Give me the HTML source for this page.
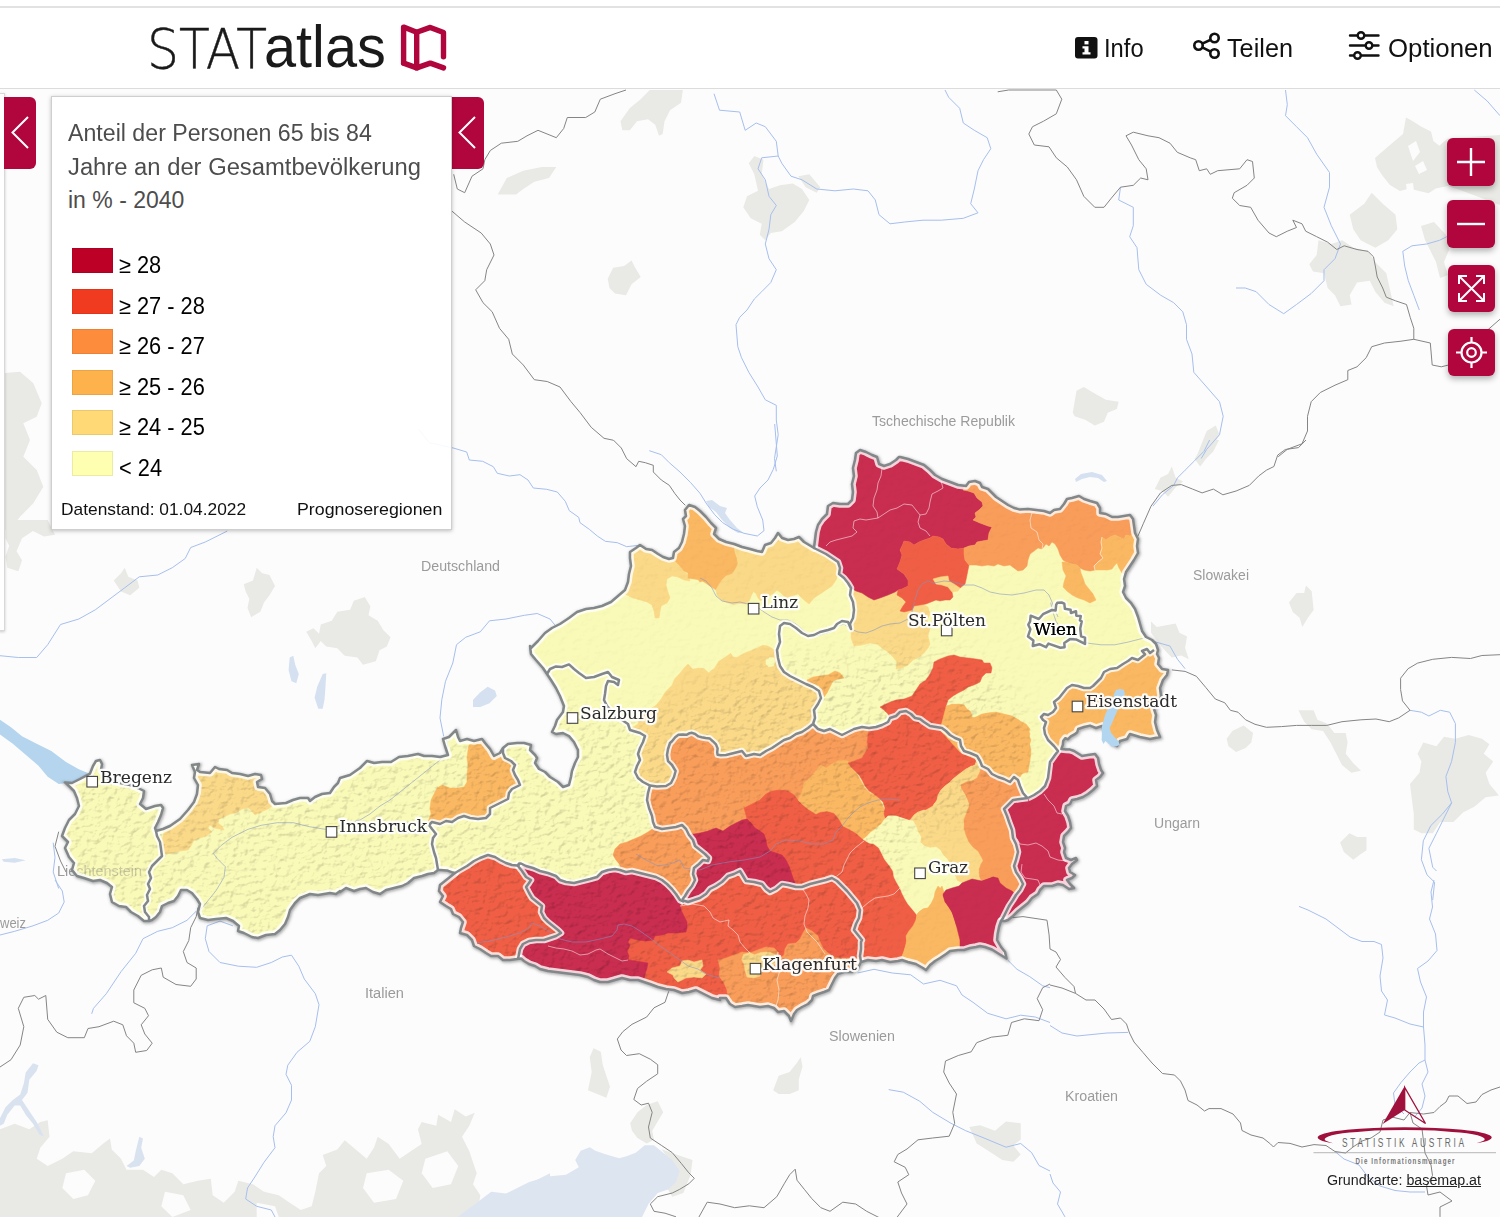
<!DOCTYPE html>
<html lang="de"><head><meta charset="utf-8"><title>STATatlas</title>
<style>
*{box-sizing:border-box;margin:0;padding:0}
html,body{width:1500px;height:1217px;overflow:hidden;background:#fff;font-family:"Liberation Sans",sans-serif;color:#000}
.topline{position:absolute;left:0;top:6px;width:1500px;height:2px;background:#e2e2e2}
header{position:absolute;left:0;top:8px;width:1500px;height:81px;background:#fff;border-bottom:1.3px solid #dcdcdc}
.t{position:absolute;white-space:pre;transform-origin:0 0;line-height:1}
#map{position:absolute;left:0;top:89px;width:1500px;height:1128px;background:#fcfcfc;overflow:hidden}
#map svg{position:absolute;left:0;top:-89px}
.rbtn{position:absolute;background:#b0063d;}
.legend{position:absolute;left:51px;top:96px;width:401px;height:434px;background:rgba(255,255,255,.9);border:1px solid #cfcfcf;box-shadow:0 1px 4px rgba(0,0,0,.25)}
.sw{position:absolute;left:72px;width:41px;height:25px}
.ctl{position:absolute;left:1447px;width:48px;height:48px;border-radius:6px;background:#b0063d;box-shadow:0 3px 6px rgba(0,0,0,.3)}
.panel{position:absolute;left:-2px;top:93px;width:7px;height:538px;background:rgba(255,255,255,.85);border:1px solid #d8d8d8;box-shadow:0 1px 3px rgba(0,0,0,.2)}
</style></head><body>
<div id="map"><svg width="1500" height="1217" viewBox="0 0 1500 1217">
<defs><clipPath id="at"><path d="M70 787 L65 782.4 L72 783 L80 779 L90 773.6 L93 766 L96 761 L100 760 L102 764 L101 770 L108 779 L120 783 L130 785 L138 788 L144 791 L143 798 L140 804 L146 809 L155 806 L161 805 L163 808 L161 815 L158 822 L155 828 L156 831 L163 829 L170 826 L180 819 L188 810 L194 802 L197 794 L198 785 L194 778 L195 772 L192 765 L199 764 L197 770 L200 772 L210 773 L215 767 L219 769 L227 770 L232 773 L240 774 L248 776 L255 774 L261 775 L262 779 L257 782 L258 787 L265 788 L270 794 L272 801 L275 804 L286 803 L293 800 L300 798 L308 798 L310 801 L315 797 L322 794 L330 793 L334 787 L338 783 L340 778 L350 775 L360 768 L367 761 L374 763 L382 762 L391 762 L399 757 L408 756 L418 754 L424 756 L432 756 L440 757 L448 755 L445 746 L443 739 L449 737 L456 730 L458 737 L460 741 L467 739 L474 741 L482 739 L485 743 L490 749 L494 756 L500 753 L503 748 L508 744 L517 743 L524 743 L531 745 L530 750 L535 755 L537 758 L535 763 L539 769 L545 772 L550 777 L558 782 L563 787 L569 785 L571 777 L572 771 L575 763 L578 757 L578 750 L574 742 L569 736 L563 733 L556 734 L552 732 L555 726 L557 720 L563 712 L564 706 L560 696 L556 688 L551 680 L547 674 L543 668 L536 660 L531 654 L530 646 L531 648 L538 641 L545 633 L552 628 L560 624 L569 618 L577 612 L586 609 L594 608 L602 606 L611 602 L618 596 L625 590 L628 582 L629 574 L631 566 L630 558 L630 552 L636 548 L640 545 L646 549 L652 550 L658 554 L663 557 L669 559 L673 558 L674 552 L679 548 L682 542 L684 534 L685 526 L683 519 L686 516 L685 510 L689 505 L695 507 L700 511 L700 511 L706 517 L711 523 L716 528 L714 534 L719 539 L726 542 L734 544 L742 547 L750 549 L757 551 L762 552 L765 545 L771 543 L775 538 L778 533 L782 538 L788 540 L794 539 L799 537 L804 542 L809 545 L814 548 L815 540 L816 532 L818 525 L822 519 L827 514 L828 506 L833 503 L840 504 L848 504 L852 500 L853 492 L852 484 L854 476 L853 468 L855 460 L856 453 L860 450 L866 452 L872 455 L877 457 L879 464 L884 466 L890 464 L896 460 L899 457 L900 457 L908 459 L916 462 L924 465 L930 470 L935 475 L942 479 L950 482 L958 485 L966 486 L969 482 L975 481 L980 483 L982 487 L988 489 L992 493 L996 497 L1002 501 L1008 505 L1014 508 L1020 509.6 L1028 509 L1036 510 L1044 511 L1050 513 L1054 510 L1060 509 L1064 504 L1067 499 L1072 498 L1079 496 L1084 499 L1090 501 L1097 503 L1100 508 L1100 513 L1106 514 L1112 517 L1118 517 L1124 516 L1130 515 L1133 519 L1134 526 L1135 533 L1138 539 L1137 546 L1138 553 L1134 560 L1130 566 L1126 572 L1124 579 L1125 586 L1123 592 L1126 598 L1131 603 L1135 609 L1138 617 L1140 624 L1142 631 L1146 637 L1152 640 L1156 644 L1158 650 L1157 654 L1159 658 L1158 664 L1162 669 L1168 670 L1167 675 L1163 680 L1160 688 L1161 696 L1159 703 L1154 709 L1156 715 L1155 722 L1157 730 L1160 737 L1150 739 L1140 737 L1130 734 L1127 739 L1120 741 L1117 746 L1112 744 L1106 736 L1102 726 L1096 728 L1090 725.6 L1084 727 L1078.2 729 L1077.2 732.2 L1074.4 734.4 L1070.8 736.4 L1068 739.2 L1065.2 738.2 L1063.2 741 L1062.8 744.8 L1061.8 747.6 L1061.4 749 L1061.6 749 L1066 749.4 L1070 749.6 L1074 751 L1082 756 L1088 755 L1095 754 L1098 758 L1099 764 L1101 770 L1103 773 L1100 777 L1096 780 L1097 786 L1093 790 L1088 794 L1083 797 L1077 799 L1072 800 L1070 804 L1066 806 L1065 811 L1068 816 L1070 822 L1071 828 L1068 832 L1064 836 L1063 842 L1065 848 L1064 852 L1066 858 L1071 860 L1076 858 L1077 860 L1072 864 L1069 868 L1070 872 L1075 875 L1072 878 L1067 880 L1070 884 L1074 888 L1069 889 L1063 885 L1058 884 L1052 886 L1044 886 L1040 890 L1038 894 L1032 898 L1028 903 L1023 907 L1018 911 L1013 916 L1008 920 L1005 921 L1001 921 L999 927 L997.6 934 L997 940 L1001 947 L1005 952 L1006.5 958.5 L1000 954.5 L992 949.5 L985 947 L980 946 L976 947 L970 948 L964 950 L958 950 L950 951 L946 954 L940 958 L935 961 L930 965 L926 970 L923 968 L916 964 L908 962 L902 960 L898 961 L890 962 L882 960 L876 961 L868 960 L861 962 L858 968 L852 972 L844 972 L838 974 L835 978 L832 984 L829 990 L824 992 L818 994 L813 996 L812 1000 L808 1004 L802 1007 L797 1010 L794 1014 L791 1021 L789 1016 L784 1011 L778 1012 L774 1008 L768 1006 L760 1007 L754 1006 L748 1005 L742 1006 L735 1007 L730 1004 L726 998 L720 998 L720 1000 L712 998 L704 994 L696 990 L689 992 L682 993 L674 990 L666 989 L658 987 L650 984 L644 982 L638 980 L630 980 L622 978 L615 980 L608 982 L600 982 L594 980 L588 977 L580 975 L572 974 L564 973 L556 972 L548 971 L540 969 L535 966 L529 964 L524 961 L521 958.4 L517 959 L510 960 L503 960 L498 956 L491 956 L486 953 L480 949 L474 946 L472 940 L467 935 L460 933 L461 928 L463 922 L459 917 L453 914 L451 909 L446 906 L440 902 L443 896 L439 891 L440 885 L450 877 L455 873 L453 872.6 L447 870.4 L440 870 L438 870 L434 873 L428 874 L422 876 L414 878 L408 883 L402 886 L394 888 L386 890 L380 894 L373 892 L366 888 L360 889 L354 891 L346 888 L340 892 L340 891 L336 894 L330 893 L324 894 L318 895 L310 894 L300 898 L295 903 L290 910 L288 917 L285 924 L280 930 L275 934 L266 935 L258 938 L252 937 L244 933 L238 931 L239 926 L233 921 L226 918 L216 919 L208 920 L200 918 L198 912 L200 904 L197 899 L192 893 L187 890 L181 890 L178 896 L174 901 L168 903 L162 906 L160 912 L156 917 L152 920 L149 921 L144 921 L138 916 L131 912 L126 907 L119 906 L112 902 L110 894 L112 887 L107 883 L100 880 L93 881 L84 878 L77 876 L72 870 L74 863 L69 857 L65 848 L68 842 L62 836 L65 828 L69 820 L75 814 L79 806 L77 798 L74 791 L70 787Z"/></clipPath>
<filter id="sh" x="-5%" y="-5%" width="110%" height="110%"><feGaussianBlur stdDeviation="1.6"/></filter>
<filter id="hs" x="0" y="0" width="1" height="1" color-interpolation-filters="sRGB"><feTurbulence type="fractalNoise" baseFrequency="0.13 0.17" numOctaves="3" seed="11" result="n"/><feDiffuseLighting in="n" surfaceScale="2.0" diffuseConstant="1" lighting-color="#fff" result="l"><feDistantLight azimuth="225" elevation="45"/></feDiffuseLighting><feColorMatrix in="l" type="matrix" values="0.33 0 0 0 0.772  0.33 0 0 0 0.772  0.33 0 0 0 0.772  0 0 0 1 0"/></filter><filter id="mb" x="-0.1" y="-0.1" width="1.2" height="1.2"><feGaussianBlur stdDeviation="14"/></filter><mask id="alpm" maskUnits="userSpaceOnUse" x="0" y="400" width="1500" height="700"><rect x="0" y="400" width="1500" height="700" fill="#2a2a2a"/><path d="M40 740 L230 760 L420 740 L560 705 L640 722 L700 690 L780 655 L860 655 L950 648 L1010 690 L1040 760 L1005 800 L960 828 L930 828 L900 860 L900 900 L870 960 L800 1040 L400 1010 L40 960Z" fill="#fff" filter="url(#mb)"/></mask>
</defs>
<g fill="#e9eae5">
<path d="M5 373 L20 371.7 L33.3 383.3 L41.7 403.3 L36.7 416.7 L23.3 423.3 L30 440 L23.3 456.7 L36.7 470 L43.3 486.7 L33.3 503.3 L20 516.7 L10 530 L5 530Z"/>
<path d="M620.5 121.2 L629.7 108.3 L640.7 99.2 L649.8 90 L682.8 90 L681 102.8 L670 110.2 L664.5 121.2 L662.7 134 L659 135.8 L655.3 124.8 L648 119.3 L637 121.2 L629.7 130.3 L622.3 130.3Z"/>
<path d="M497.7 194.5 L506.8 178 L523.3 170.7 L541.7 167 L556.3 167 L549 178 L534.3 181.7 L523.3 189 L516 194.5Z"/>
<path d="M754.3 156 L763.5 159.7 L761.7 174.3 L769 189 L780 185.3 L792.8 183.5 L802 189 L809.3 200 L803.8 211 L794.7 222 L781.8 231.2 L770.8 233 L765.3 240.3 L759.8 234.8 L761.7 223.8 L750.7 218.3 L743.3 207.3 L747 196.3 L758 190.8 L754.3 174.3 L748.8 163.3Z"/>
<path d="M798.3 176.2 L809.3 174.3 L820.3 187.2 L816.7 192.7 L805.7 187.2Z"/>
<path d="M607.7 278.8 L613.2 267.8 L624.2 266 L631.5 260.5 L635.2 267.8 L640.7 277 L631.5 284.3 L626 295.3 L615 293.5 L609.5 288Z"/>
<path d="M1375 158 L1390 145 L1403 134 L1406 117.5 L1412 120.7 L1421.4 126.7 L1431 131.4 L1433.3 141 L1439.3 145.7 L1447.6 138.6 L1500 135 L1500 205 L1460 190 L1447.6 186 L1435.7 188.6 L1428.6 193.3 L1419 191 L1409.5 188.6 L1400 191 L1390 185 L1382 175 L1377 167Z"/>
<path d="M1349.7 214.7 L1364.3 203.7 L1371.7 192.7 L1382.7 203.7 L1395.5 214.7 L1397.3 229.3 L1388.2 240.3 L1375.3 247.7 L1360.7 240.3 L1353.3 229.3Z"/>
<path d="M1309.3 264.2 L1316.7 255 L1318.5 240.3 L1331.3 244 L1342.3 240.3 L1353.3 247.7 L1368 251.3 L1375.3 262.3 L1386.3 273.3 L1390 289.8 L1393.7 306.3 L1384.5 302.7 L1375.3 291.7 L1369.8 280.7 L1357 282.5 L1349.7 295.3 L1351.5 304.5 L1340.5 306.3 L1335 295.3 L1327.7 288 L1324 273.3 L1313 271.5Z"/>
<path d="M1421 226 L1434 222 L1447 236 L1449 250 L1444 262 L1448 275 L1440 278 L1436 262 L1430 250 L1425 240Z"/>
<path d="M1072.8 412.7 L1076.5 390.7 L1083.8 387 L1093 392.5 L1105.8 399.8 L1118.7 401.7 L1116.8 409 L1107.7 412.7 L1104 421.8 L1094.8 425.5 L1085.7 420 L1074.7 416.3Z"/>
<path d="M1206.7 431 L1215.8 425.5 L1219.5 434.7 L1212.2 447.5 L1203 458.5 L1195.7 458.5Z"/>
<path d="M306.2 631.8 L313.5 628.2 L319 633.7 L320.8 624.5 L331.8 620.8 L337.3 611.7 L350.2 609.8 L353.8 600.7 L364.8 597 L370.3 606.2 L368.5 615.3 L377.7 620.8 L383.2 630 L390.5 637.3 L386.8 646.5 L379.5 650.2 L375.8 661.2 L363 664.8 L357.5 657.5 L344.7 655.7 L337.3 648.3 L326.3 646.5 L320.8 641 L315.3 648.3 L311.7 641Z"/>
<path d="M243.8 584.2 L253 580.5 L256.7 567.7 L262.2 573.2 L269.5 575 L275 586 L269.5 595.2 L264 602.5 L260.3 611.7 L251.2 617.2 L247.5 608 L249.3 598.8 L245.7 591.5Z"/>
<path d="M113.7 580.5 L121 573.2 L124.7 567.7 L128.3 576.8 L137.5 580.5 L139.3 587.8 L130.2 595.2 L121 591.5Z"/>
<path d="M5.5 527.3 L11 520 L47.7 520 L55 534.7 L44 536.5 L33 531 L22 538.3 L16.5 551.2 L22 560.3 L18.3 571.3 L7.3 567.7 L5.5 556.7 L9.2 545.7 L5.5 538.3Z"/>
<path d="M0 1129.3 L14.7 1123.8 L29.3 1129.3 L40.3 1122 L47.7 1120.2 L49.5 1136.7 L40.3 1147.7 L36.7 1158.7 L47.7 1166 L62.3 1158.7 L73.3 1151.3 L91.7 1153.2 L102.7 1144 L110 1138.5 L111.8 1149.5 L121 1158.7 L126.5 1169.7 L143 1169.7 L154 1177 L161.3 1169.7 L172.3 1173.3 L183.3 1184.3 L198 1180.7 L210.8 1178.8 L212.7 1195.3 L223.7 1202.7 L234.7 1191.7 L238.3 1180.7 L253 1184.3 L264 1191.7 L278.7 1195.3 L289.7 1202.7 L300.7 1210 L311.7 1206.3 L315.3 1191.7 L319 1173.3 L326.3 1166 L322.7 1155 L337.3 1149.5 L344.7 1140.3 L355.7 1149.5 L366.7 1158.7 L374 1147.7 L377.7 1136.7 L388.7 1144 L399.7 1158.7 L410.7 1151.3 L421.7 1144 L418 1129.3 L421.7 1122 L436.3 1125.7 L438.2 1114.7 L451 1122 L454.7 1109.2 L465.7 1116.5 L474.8 1112.8 L469.3 1125.7 L462 1136.7 L469.3 1151.3 L476.7 1173.3 L473 1184.3 L480.3 1195.3 L476.7 1219.2 L0 1219.2Z"/>
<path d="M588 1090.3 L591.7 1072 L589.8 1057.3 L593.5 1048.2 L600.8 1051.8 L602.7 1064.7 L606.3 1075.7 L610 1086.7 L606.3 1097.7 L597.2 1094Z"/>
<path d="M630.2 1123.3 L637.5 1112.3 L646.7 1105 L657.7 1101.3 L663.2 1112.3 L657.7 1121.5 L652.2 1130.7 L654 1139.8 L646.7 1143.5 L637.5 1138 L632 1130.7Z"/>
<path d="M661.3 1149 L676 1154.5 L692.5 1160 L690.7 1174.7 L683.3 1193 L672.3 1196.7 L666.8 1187.5 L676 1178.3 L672.3 1163.7Z"/>
<path d="M773.2 1090.3 L778.7 1075.7 L789.7 1072 L797 1062.8 L800.7 1057.3 L802.5 1066.5 L798.8 1079.3 L798.8 1090.3 L789.7 1094 L778.7 1094Z"/>
<path d="M969.3 1127 L980.3 1125.2 L995 1130.7 L1006 1121.5 L1020.7 1123.3 L1020.7 1139.8 L1013.3 1145.3 L1020.7 1154.5 L1013.3 1161.8 L1002.3 1160 L991.3 1152.7 L976.7 1143.5Z"/>
<path d="M1151 621.5 L1156.7 627.1 L1166.2 625.3 L1175.6 623.4 L1179.4 632.8 L1187 636.6 L1185.1 647.9 L1188.8 659.3 L1181.3 655.5 L1171.8 657.4 L1164.3 649.8 L1156.7 640.4 L1151 632.8Z"/>
<path d="M1154.8 489.1 L1160.5 477.8 L1168.1 474 L1171.8 466.5 L1175.6 477.8 L1183.2 481.6 L1175.6 487.3 L1168.1 496.7 L1162.4 491Z"/>
<path d="M1194.5 458.9 L1202.1 447.6 L1209.6 440 L1219.1 440 L1213.4 451.3 L1205.9 458.9 L1200.2 466.5Z"/>
<path d="M1289 602.6 L1296.6 593.1 L1304.2 593.1 L1306 585.6 L1311.7 591.2 L1313.6 610.1 L1307.9 617.7 L1302.3 627.1 L1299.6 617.7 L1292.8 612Z"/>
<path d="M1226.7 738.7 L1232.3 731.1 L1243.7 725.4 L1253.1 733 L1251.2 742.5 L1245.6 748.1 L1236.1 751.9 L1228.5 746.2Z"/>
<path d="M1298.5 710.3 L1313.6 710.3 L1317.4 719.8 L1326.8 723.6 L1334.4 733 L1345.7 733 L1347.6 742.5 L1345.7 753.8 L1353.3 763.3 L1360.9 770.8 L1351.4 772.7 L1342 765.1 L1336.3 753.8 L1330.6 742.5 L1323.1 731.1 L1311.7 729.2 L1304.2 721.7Z"/>
<path d="M1417.6 753.8 L1423.3 742.5 L1436.5 746.2 L1444 736.8 L1455.4 738.7 L1468.6 734.9 L1481.9 738.7 L1489.4 744.3 L1483.7 753.8 L1493.2 761.4 L1485.6 772.7 L1489.4 784 L1498.9 795.4 L1485.6 797.3 L1474.3 806.7 L1462.9 812.4 L1453.5 821.9 L1440.3 821.9 L1432.7 833.2 L1421.4 833.2 L1413.8 829.4 L1413.8 814.3 L1411.9 799.2 L1410 784 L1419.5 772.7 L1421.4 761.4Z"/>
<path d="M1340.1 842.6 L1349.5 833.2 L1357.1 837 L1366.5 837 L1366.5 850.2 L1360.9 854 L1353.3 859.7 L1343.9 852.1Z"/>
</g><g fill="#fcfcfc">
<path d="M66 1173.3 L84.3 1169.7 L95.3 1180.7 L88 1195.3 L73.3 1199 L62.3 1188Z"/>
<path d="M165 1191.7 L183.3 1195.3 L190.7 1210 L172.3 1217 L161.3 1206.3Z"/>
<path d="M366.7 1173.3 L388.7 1169.7 L403.3 1180.7 L396 1199 L374 1202.7 L363 1188Z"/>
<path d="M256.7 1202.7 L275 1206.3 L278.7 1217 L256.7 1217Z"/>
<path d="M425.3 1158.7 L447.3 1151.3 L458.3 1166 L451 1184.3 L432.7 1188 L421.7 1173.3Z"/>
<path d="M1408 146 L1416 141 L1420 152 L1413 161Z"/>
<path d="M1415 166 L1423 161 L1427 170 L1419 174Z"/>
<path d="M1406 184 L1413 183 L1414 191 L1407 192Z"/>
</g>
<path d="M0 719.8 L11 727.2 L22 736.3 L36.7 743.7 L51.3 751 L66 762 L78.8 769.3 L88 773 L84.3 778.5 L73.3 782.2 L58.7 784 L47.7 776.7 L38.5 765.7 L25.7 754.7 L12.8 743.7 L0 734.5Z" fill="#b5d5ef"/>
<path d="M289.7 657.5 L293.3 655.7 L295.2 664.8 L298.8 674 L296.3 683.2 L291.5 681.3 L288.6 670.3Z" fill="#d5e1f0"/>
<path d="M322.7 674 L326.3 673.3 L325.6 685 L324.5 699.7 L322.7 708.8 L318.3 708.8 L314.6 697.8 L317.2 686.8Z" fill="#d5e1f0"/>
<path d="M473 699.7 L480.3 692.3 L487.7 686.8 L495 690.5 L496.8 696 L489.5 703.3 L480.3 707 L473 707Z" fill="#d5e1f0"/>
<path d="M1.8 859.2 L14.7 858.1 L25.7 860.3 L14.7 862.8 L3.7 861.7Z" fill="#d5e1f0"/>
<path d="M33 1063.3 L38.5 1065.2 L36.7 1070.7 L29.3 1079.8 L27.5 1092.7 L22 1100 L29.3 1111 L36.7 1122 L42.2 1133 L44 1136.7 L39.6 1134.8 L33 1123.8 L25.7 1114.7 L20.2 1105.5 L14.7 1105.5 L7.3 1114.7 L3.7 1123.8 L0 1125.7 L0 1118.3 L5.5 1107.3 L12.8 1100 L20.2 1094.5 L23.8 1083.5 L25.7 1072.5Z" fill="#d9e3f0"/>
<path d="M139.3 1136.7 L143 1138.5 L141.2 1147.7 L144.8 1158.7 L139.3 1166 L130.2 1167.8 L126.5 1166 L133.8 1160.5 L135.7 1151.3Z" fill="#d9e3f0"/>
<path d="M454.7 1219.2 L476.7 1202.7 L491.3 1191.7 L506 1193.5 L520.7 1188 L535.3 1180.7 L550 1173.3 L550 1219.2Z" fill="#dde5f1"/>
<path d="M500 1196.7 L514.7 1189.3 L529.3 1182 L547.7 1176.5 L566 1174.7 L578.8 1167.3 L575.2 1160 L580.7 1150.8 L589.8 1147.2 L595.3 1150.8 L606.3 1154.5 L619.2 1158.2 L626.5 1156.3 L635.7 1152.7 L644.8 1145.3 L654 1145.3 L663.2 1152.7 L672.3 1160 L679.7 1171 L676 1182 L668.7 1189.3 L657.7 1193 L648.5 1204 L641.2 1218.7 L500 1218.7Z" fill="#dde5f1"/>
<path d="M706 501 L712 500 L720 506 L727 508 L725 513 L730 520 L737 528 L743 532.4 L738 533 L730 528 L722 520 L716 512 L709 507Z" fill="#d5e1f0"/>
<path d="M1075 479 L1081 474 L1092 472 L1102 475 L1107 481 L1104 482 L1098 478 L1090 477 L1082 479 L1076 482Z" fill="#d5e1f0"/>
<g fill="none" stroke="#a6bfee" stroke-width="1">
<path d="M418.7 429.3 L429.3 442.7 L453.3 448 L466.7 452 L469.3 460 L482.7 461.3 L493.3 466.7 L497.3 473.3 L509.3 476 L520 474.7 L528 480 L533.3 488 L546.7 489.3 L557.3 492 L565.3 501.3 L569.3 510.7 L578.7 517.3 L580 522.7 L589.3 529.3 L597.3 536 L605.3 541.3 L617.3 542.7 L626.7 546.7 L638.7 545.3"/>
<path d="M649.3 450.7 L661.3 454.7 L669.3 462.7 L680 472 L690.7 482.7 L700 493.3 L706.7 504 L714.7 514.7 L722.7 522.7 L733.3 529.3 L744 533.3 L757.3 536 L764 530.7 L762.7 520 L757.3 506.7 L754.7 496 L760 488 L768 480 L773.3 469.3 L777.3 456 L776 440 L774.7 424"/>
<path d="M714 93.7 L719.5 110.2 L739.7 112 L745.2 130.3 L756.2 123 L765.3 126.7 L776.3 141.3 L778.2 156 L761.7 157.8 L758 168.8 L765.3 179.8 L769 196.3 L776.3 205.5 L770.8 214.7 L769 229.3 L765.3 244 L769 258.7 L776.3 269.7 L770.8 282.5 L761.7 291.7 L754.3 299 L747 310 L739.7 317.3 L736 324.7 L737.8 346.7 L741.5 357.7 L748.8 372.3 L758 387 L765.3 399.8 L776.3 405.3 L776.3 420 L778.2 434.7 L774.5 458.5 L776.3 471.3"/>
<path d="M778.2 156 L781.8 163.3 L791 176.2 L802 179.8 L816.7 189 L835 190.8 L853.3 189 L868 190.8 L875.3 200 L879 214.7 L890 223.8 L904.7 222 L923 220.2 L941.3 220.2 L963.3 218.3 L978 212.8 L970.7 203.7 L974.3 189 L978 170.7 L983.5 159.7 L990.8 148.7 L987.2 137.7 L974.3 130.3 L963.3 123 L959.7 108.3 L948.7 97.3 L945 90"/>
<path d="M1120.5 187.2 L1118.7 200 L1133.3 207.3 L1133.3 225.7 L1129.7 236.7 L1137 247.7 L1138.8 269.7 L1146.2 284.3 L1160.8 295.3 L1173.7 302.7 L1182.8 311.8 L1186.5 324.7 L1186.5 339.3 L1192 354 L1193.8 372.3 L1206.7 387 L1219.5 401.7 L1223.2 416.3 L1219.5 434.7 L1206.7 449.3 L1201.2 458.5"/>
<path d="M1285.5 90 L1287.3 104.7 L1285.5 115.7 L1296.5 126.7 L1307.5 137.7 L1316.7 154.2 L1329.5 172.5 L1329.5 187.2 L1324 207.3 L1331.3 225.7 L1340.5 244 L1335 258.7 L1324 269.7 L1324 280.7 L1311.2 293.5 L1296.5 304.5 L1283.7 313.7 L1269 304.5 L1256.2 291.7 L1245.2 288 L1236 288"/>
<path d="M1446.8 236.7 L1439.5 240.3 L1426.7 244 L1412 245.8 L1402.8 251.3 L1404.7 266 L1408.3 280.7 L1413.8 295.3 L1419.3 310"/>
<path d="M1474.3 90 L1487.2 101 L1500 115.7"/>
<path d="M0 655.7 L18.3 657.5 L36.7 657.5 L47.7 644.7 L60.5 624.5 L78.8 619 L95.3 609.8 L110 598.8 L124.7 587.8 L139.3 576.8 L157.7 575 L172.3 567.7 L185.2 558.5 L190.7 547.5 L205.3 542 L220 534.7 L227.3 531"/>
<path d="M443.7 736.3 L440 718 L441.8 699.7 L445.5 681.3 L452.8 663 L456.5 644.7 L465.7 637.3 L480.3 631.8 L489.5 620.8 L506 619 L524.3 615.3 L537.2 613.5 L550 619 L554.8 624.9"/>
<path d="M53.2 842.7 L55 857.3 L53.2 872 L58.7 888.5"/>
<path d="M91.7 1013.8 L93.5 1008.3 L106.3 993.7 L121 971.7 L135.7 953.3 L143 938.7 L157.7 931.3 L172.3 927.7 L187 920.3 L196.2 911.2"/>
<path d="M232.8 925.8 L220 921.1 L207.2 925.8 L205.3 938.7 L209 951.5 L220 962.5 L238.3 966.2 L256.7 967.3 L271.3 962.5 L282.3 957 L291.5 955.2 L298.8 966.2 L304.3 979 L315.3 993.7 L319 1004.7 L315.3 1026.7 L309.8 1041.3 L297 1052.3 L287.8 1065.2 L286 1074.3 L291.5 1085.3 L291.5 1100 L286 1112.8 L275 1125.7 L273.2 1136.7 L275 1147.7 L264 1162.3 L254.8 1177 L247.5 1188 L245.7 1199 L256.7 1206.3 L271.3 1210 L275 1217"/>
<path d="M55 880 L62.3 891 L64.2 902 L58.7 913 L47.7 920.3 L33 925.8 L14.7 931.3 L0 935"/>
<path d="M857.5 973 L874 969.3 L892.3 973 L910.7 974.8 L923.5 984 L940 980.3 L956.5 985.8 L962 995 L973 1002.3 L987.7 1013.3 L1006 1018.8 L1020.7 1015.2 L1035.3 1017 L1050 1022.5"/>
<path d="M1007.8 960.2 L1017 969.3 L1029.8 976.7 L1042.7 985.8 L1050 987.7"/>
<path d="M888.7 1089.6 L903.3 1092.2 L919.8 1101.3 L932.7 1112.3 L951 1123.3 L965.7 1130.7 L984 1138 L1006 1147.2 L1020.7 1143.5 L1031.7 1152.7 L1039 1165.5 L1050 1171"/>
<path d="M1050 1025.5 L1062 1033 L1077 1036 L1092 1034.5 L1107 1033 L1128 1032.4"/>
<path d="M1299 906.4 L1308 910 L1326 919 L1338 928 L1350 937 L1362 941.5 L1374 941.5 L1381.5 944.5 L1383 958 L1380 976 L1381.5 991 L1387.5 1000 L1384.5 1015 L1395 1018 L1410 1024 L1423.5 1027"/>
<path d="M1434 880 L1431 892 L1432.5 907 L1429.5 919 L1435.5 934 L1437 950.5 L1428 961 L1417.5 968.5 L1420.5 982 L1426.5 997 L1423.5 1012 L1423.5 1027 L1425 1045 L1425 1060 L1428 1072 L1422 1084 L1425 1096 L1422 1108 L1414.5 1117"/>
<path d="M1425 1060 L1419 1063 L1410 1072 L1401 1082.5 L1393.5 1093 L1395 1105 L1404 1114"/>
<path d="M1050 1174 L1053 1183 L1060.5 1192 L1057.5 1204 L1065 1216.9"/>
<path d="M1335 1151.5 L1344 1159 L1359 1165 L1368 1177 L1380 1186 L1395 1190.5 L1410 1192 L1425 1192"/>
<path d="M1209.6 440 L1204 451.3 L1194.5 460.8 L1185.1 470.2 L1177.5 477.8 L1173.7 485.4 L1162.4 494.8 L1152.9 506.2"/>
<path d="M1139.7 636.6 L1156.7 642.3 L1169.9 646 L1177.5 659.3 L1185.1 668.7"/>
<path d="M1410 710.3 L1421.4 712.2 L1428.9 716 L1440.3 710.3 L1449.7 712.2 L1455.4 723.6 L1455.4 742.5 L1451.6 761.4 L1445.9 776.5 L1447.8 791.6 L1451.6 802.9 L1442.2 814.3 L1430.8 825.6 L1423.3 840.8 L1421.4 859.7 L1427 874.8 L1434.6 882.3 L1432.7 900.1"/>
<path d="M1451.6 802.9 L1444 818.1 L1436.5 833.2 L1428.9 848.3 L1432.7 867.2 L1436.5 871"/>
</g><g fill="none" stroke="#858585" stroke-width="1">
<path d="M613.3 440 L621.3 448 L626.7 458.7 L636 466.7 L638.7 461.3 L645.3 462.7 L653.3 465.3 L653.3 472 L661.3 480 L669.3 485.3 L674.7 493.3 L680 500 L685.3 505.3"/>
<path d="M626 90 L615 93.7 L600.3 99.2 L594.8 112 L585.7 117.5 L567.3 117.5 L563.7 128.5 L556.3 137.7 L538 130.3 L527 135.8 L517.8 141.3 L501.3 143.2 L490.3 150.5 L484.8 159.7 L483 168.8 L472 176.2 L464.7 192.7 L457.3 189 L453.7 174.3"/>
<path d="M451.8 211 L464.7 222 L481.2 233 L490.3 244 L494 255 L486.7 269.7 L484.8 280.7 L475.7 289.8 L483 302.7 L492.2 311.8 L499.5 328.3 L508.7 339.3 L512.3 354 L523.3 365 L534.3 379.7 L547.2 381.5 L560 387 L571 401.7 L580.2 412.7 L591.2 427.3 L604 438.3 L613.2 440.2"/>
<path d="M997.7 91.8 L1008.7 90 L1056.3 90 L1061.8 99.2 L1056.3 113.8 L1043.5 121.2 L1032.5 126.7 L1028.8 134 L1034.3 145 L1049 146.8 L1056.3 157.8 L1067.3 167 L1076.5 179.8 L1083.8 196.3 L1094.8 207.3 L1104 207.3 L1111.3 198.2 L1120.5 187.2 L1133.3 185.3 L1140.7 178 L1148 179.8 L1146.2 168.8 L1138.8 159.7 L1131.5 145 L1126 135.8 L1133.3 132.2 L1148 135.8 L1159 137.7 L1170 143.2 L1177.3 152.3 L1190.2 157.8 L1195.7 159.7 L1199.3 170.7 L1206.7 168.8 L1210.3 174.3 L1217.7 170.7 L1239.7 168.8 L1247 159.7 L1252.5 161.5 L1254.3 178 L1247 185.3 L1234.2 192.7 L1232.3 198.2 L1239.7 205.5 L1250.7 207.3 L1258 220.2 L1269 233 L1276.3 236.7 L1287.3 231.2 L1296.5 227.5 L1292.8 220.2 L1302 223.8 L1305.7 231.2 L1316.7 236.7 L1327.7 242.2 L1336.8 249.5 L1344.2 245.8 L1357 249.5 L1368 251.3 L1373.5 256.8 L1375.3 266 L1377.2 277 L1382.7 288 L1386.3 297.2 L1395.5 300.8 L1406.5 304.5 L1410.2 317.3 L1413.8 328.3 L1413.8 339.3"/>
<path d="M1413.8 339.3 L1430.3 343 L1432.2 365 L1441.3 366.8 L1456 363.2 L1470.7 346.7 L1485.3 332 L1500 319.2"/>
<path d="M1413.8 339.3 L1401 341.2 L1384.5 343 L1371.7 346.7 L1366.2 357.7 L1357 366.8 L1347.8 370.5 L1347.8 379.7 L1335 385.2 L1320.3 392.5 L1311.2 401.7 L1307.5 416.3 L1307.5 431 L1302 443.8 L1287.3 449.3 L1278.2 456.7"/>
<path d="M0 1067 L11 1059.7 L20.2 1045 L23.8 1026.7 L18.3 1008.3 L23.8 997.3 L34.8 995.5 L38.5 999.2 L45.8 995.5 L47.7 1019.3 L56.8 1032.2 L67.8 1037.7 L84.3 1037.7 L88 1028.5 L99 1026.7 L113.7 1021.2 L122.8 1024.8 L126.5 1035.8 L133.8 1043.2 L135.7 1052.3 L146.7 1050.5 L152.2 1043.2 L144.8 1034 L141.2 1024.8 L148.5 1015.7 L144.8 1008.3 L133.8 1002.8 L133.8 990 L141.2 975.3 L152.2 969.8 L161.3 968 L163.2 977.2 L176 984.5 L190.7 986.3 L196.2 979 L196.2 968 L187 962.5 L183.3 951.5 L188.8 940.5 L190.7 927.7 L196.2 916.7 L198 907.5"/>
<path d="M58.7 831.7 L55 846.3 L60.5 861 L66 872"/>
<path d="M668.7 991.3 L665 1002.3 L654 1007.8 L646.7 1017 L632 1024.3 L622.8 1031.7 L617.3 1039 L621 1050 L626.5 1055.5 L639.3 1053.7 L650.3 1059.2 L657.7 1064.7 L657.7 1073.8 L646.7 1081.2 L637.5 1088.5 L633.8 1099.5 L641.2 1105 L648.5 1103.2 L652.2 1112.3 L648.5 1127 L650.3 1138 L661.3 1145.3 L672.3 1152.7 L681.5 1163.7 L688.8 1172.8 L694.3 1178.3 L688.8 1183.8 L679.7 1189.3 L672.3 1193 L657.7 1196.7 L650.3 1204 L654 1211.3 L665 1213.2 L676 1216.8"/>
<path d="M698 1218.7 L707.2 1202.2 L720 1204 L734.7 1207.7 L749.3 1205.8 L764 1207.7 L776.8 1196.7 L784.2 1183.8 L789.7 1174.7 L795.2 1169.2 L797 1180.2 L804.3 1189.3 L811.7 1198.5 L820.8 1207.7 L830 1211.3 L842.8 1202.2 L855.7 1204 L866.7 1211.3 L881.3 1218.7"/>
<path d="M896 1218.7 L907 1204 L901.5 1193 L897.8 1182 L908.8 1174.7 L905.2 1167.3 L894.2 1161.8 L897.8 1154.5 L907 1149 L918 1139.8 L932.7 1138 L949.2 1136.2 L954.7 1123.3 L952.8 1112.3 L956.5 1094 L949.2 1083 L943.7 1072 L945.5 1061 L958.3 1055.5 L971.2 1051.8 L976.7 1042.7 L991.3 1037.2 L1007.8 1035.3 L1011.5 1022.5 L1024.3 1018.8 L1039 1020.7 L1042.7 1009.7 L1037.2 998.7 L1042.7 987.7 L1050 984"/>
<path d="M1005 918.4 L1023 916.6 L1047 920.2 L1049.1 934.9 L1050 949 L1056 952 L1060.5 959.5 L1056 967 L1065 977.5 L1074 986.5 L1075.5 993.4"/>
<path d="M1050 985 L1062 988 L1075.5 993.4 L1086 1000 L1095 1000 L1104 1009 L1111.5 1019.5 L1120.5 1018 L1126.5 1024 L1129.5 1033 L1134 1042 L1143 1052.5 L1152 1063 L1162.5 1073.5 L1174.5 1075 L1180.5 1081 L1185 1090 L1188 1100.5 L1197 1105 L1204.5 1111 L1209 1108.6 L1221 1108.6 L1233 1114 L1240.5 1123 L1242 1130.5 L1251 1135 L1263 1138 L1270.5 1144 L1273.5 1147 L1278 1142.5 L1290 1143.4 L1302 1147 L1314 1144.6 L1326 1145.5 L1335 1151.5 L1345.5 1153 L1353 1147 L1362 1141 L1371 1138 L1380 1132 L1383 1120 L1392 1117 L1404 1120 L1410 1112.5 L1423.5 1114 L1434 1112.5 L1440 1106.5 L1446 1102 L1449 1096 L1458 1096 L1467 1103.5 L1476 1102 L1482 1094.5 L1491 1090 L1500 1087"/>
<path d="M1410 1112.5 L1413 1123 L1422 1129 L1423.5 1141 L1425 1153 L1431 1165 L1432.5 1175.5 L1426.5 1186 L1428 1195 L1440 1192 L1452 1201 L1440 1207 L1440 1216.9"/>
<path d="M1137.8 536.4 L1143.5 523.2 L1151 506.2 L1160.5 492.9 L1171.8 485.4 L1181.3 484.6 L1192.6 489.1 L1202.1 492.9 L1213.4 489.1 L1222.9 494.8 L1236.1 491 L1249.3 485.4 L1258.8 475.9 L1266.4 470.2 L1273.9 466.5 L1277.7 455.1 L1285.3 449.5 L1298.5 447.6 L1306 440"/>
<path d="M1171.8 669.9 L1185.1 671.4 L1196.4 676.3 L1205.9 687.6 L1215.3 699 L1224.8 702.8 L1230.4 710.3 L1238 712.2 L1245.6 719.8 L1255 724.3 L1266.4 727.3 L1281.5 726.6 L1296.6 725.4 L1311.7 725.4 L1326.8 725.4 L1342 721.7 L1360.9 719.8 L1376 719 L1389.2 721.7 L1398.7 717.9 L1410 710.3 L1402.5 700.9 L1400.6 689.5 L1400.6 678.2 L1408.1 668.7 L1417.6 663.1 L1432.7 659.3 L1451.6 657.4 L1470.5 658.5 L1481.9 655.5 L1500 654.7"/>
</g>
<g opacity=".999">
<text x="872" y="426" font-family="'Liberation Sans',sans-serif" font-size="14" fill="#9b9b9b" textLength="143" lengthAdjust="spacingAndGlyphs">Tschechische Republik</text>
<text x="421" y="571" font-family="'Liberation Sans',sans-serif" font-size="14" fill="#9b9b9b" textLength="79" lengthAdjust="spacingAndGlyphs">Deutschland</text>
<text x="1193" y="580" font-family="'Liberation Sans',sans-serif" font-size="14" fill="#9b9b9b" textLength="56" lengthAdjust="spacingAndGlyphs">Slowakei</text>
<text x="1154" y="828" font-family="'Liberation Sans',sans-serif" font-size="14" fill="#9b9b9b" textLength="46" lengthAdjust="spacingAndGlyphs">Ungarn</text>
<text x="365" y="998" font-family="'Liberation Sans',sans-serif" font-size="14" fill="#9b9b9b" textLength="39" lengthAdjust="spacingAndGlyphs">Italien</text>
<text x="829" y="1041" font-family="'Liberation Sans',sans-serif" font-size="14" fill="#9b9b9b" textLength="66" lengthAdjust="spacingAndGlyphs">Slowenien</text>
<text x="1065" y="1101" font-family="'Liberation Sans',sans-serif" font-size="14" fill="#9b9b9b" textLength="53" lengthAdjust="spacingAndGlyphs">Kroatien</text>
<text x="57" y="876" font-family="'Liberation Sans',sans-serif" font-size="14" fill="#9b9b9b" textLength="85" lengthAdjust="spacingAndGlyphs">Liechtenstein</text>
<text x="0" y="928" font-family="'Liberation Sans',sans-serif" font-size="14" fill="#9b9b9b" textLength="26" lengthAdjust="spacingAndGlyphs">weiz</text>
</g>
<path d="M70 787 L65 782.4 L72 783 L80 779 L90 773.6 L93 766 L96 761 L100 760 L102 764 L101 770 L108 779 L120 783 L130 785 L138 788 L144 791 L143 798 L140 804 L146 809 L155 806 L161 805 L163 808 L161 815 L158 822 L155 828 L156 831 L163 829 L170 826 L180 819 L188 810 L194 802 L197 794 L198 785 L194 778 L195 772 L192 765 L199 764 L197 770 L200 772 L210 773 L215 767 L219 769 L227 770 L232 773 L240 774 L248 776 L255 774 L261 775 L262 779 L257 782 L258 787 L265 788 L270 794 L272 801 L275 804 L286 803 L293 800 L300 798 L308 798 L310 801 L315 797 L322 794 L330 793 L334 787 L338 783 L340 778 L350 775 L360 768 L367 761 L374 763 L382 762 L391 762 L399 757 L408 756 L418 754 L424 756 L432 756 L440 757 L448 755 L445 746 L443 739 L449 737 L456 730 L458 737 L460 741 L467 739 L474 741 L482 739 L485 743 L490 749 L494 756 L500 753 L503 748 L508 744 L517 743 L524 743 L531 745 L530 750 L535 755 L537 758 L535 763 L539 769 L545 772 L550 777 L558 782 L563 787 L569 785 L571 777 L572 771 L575 763 L578 757 L578 750 L574 742 L569 736 L563 733 L556 734 L552 732 L555 726 L557 720 L563 712 L564 706 L560 696 L556 688 L551 680 L547 674 L543 668 L536 660 L531 654 L530 646 L531 648 L538 641 L545 633 L552 628 L560 624 L569 618 L577 612 L586 609 L594 608 L602 606 L611 602 L618 596 L625 590 L628 582 L629 574 L631 566 L630 558 L630 552 L636 548 L640 545 L646 549 L652 550 L658 554 L663 557 L669 559 L673 558 L674 552 L679 548 L682 542 L684 534 L685 526 L683 519 L686 516 L685 510 L689 505 L695 507 L700 511 L700 511 L706 517 L711 523 L716 528 L714 534 L719 539 L726 542 L734 544 L742 547 L750 549 L757 551 L762 552 L765 545 L771 543 L775 538 L778 533 L782 538 L788 540 L794 539 L799 537 L804 542 L809 545 L814 548 L815 540 L816 532 L818 525 L822 519 L827 514 L828 506 L833 503 L840 504 L848 504 L852 500 L853 492 L852 484 L854 476 L853 468 L855 460 L856 453 L860 450 L866 452 L872 455 L877 457 L879 464 L884 466 L890 464 L896 460 L899 457 L900 457 L908 459 L916 462 L924 465 L930 470 L935 475 L942 479 L950 482 L958 485 L966 486 L969 482 L975 481 L980 483 L982 487 L988 489 L992 493 L996 497 L1002 501 L1008 505 L1014 508 L1020 509.6 L1028 509 L1036 510 L1044 511 L1050 513 L1054 510 L1060 509 L1064 504 L1067 499 L1072 498 L1079 496 L1084 499 L1090 501 L1097 503 L1100 508 L1100 513 L1106 514 L1112 517 L1118 517 L1124 516 L1130 515 L1133 519 L1134 526 L1135 533 L1138 539 L1137 546 L1138 553 L1134 560 L1130 566 L1126 572 L1124 579 L1125 586 L1123 592 L1126 598 L1131 603 L1135 609 L1138 617 L1140 624 L1142 631 L1146 637 L1152 640 L1156 644 L1158 650 L1157 654 L1159 658 L1158 664 L1162 669 L1168 670 L1167 675 L1163 680 L1160 688 L1161 696 L1159 703 L1154 709 L1156 715 L1155 722 L1157 730 L1160 737 L1150 739 L1140 737 L1130 734 L1127 739 L1120 741 L1117 746 L1112 744 L1106 736 L1102 726 L1096 728 L1090 725.6 L1084 727 L1078.2 729 L1077.2 732.2 L1074.4 734.4 L1070.8 736.4 L1068 739.2 L1065.2 738.2 L1063.2 741 L1062.8 744.8 L1061.8 747.6 L1061.4 749 L1061.6 749 L1066 749.4 L1070 749.6 L1074 751 L1082 756 L1088 755 L1095 754 L1098 758 L1099 764 L1101 770 L1103 773 L1100 777 L1096 780 L1097 786 L1093 790 L1088 794 L1083 797 L1077 799 L1072 800 L1070 804 L1066 806 L1065 811 L1068 816 L1070 822 L1071 828 L1068 832 L1064 836 L1063 842 L1065 848 L1064 852 L1066 858 L1071 860 L1076 858 L1077 860 L1072 864 L1069 868 L1070 872 L1075 875 L1072 878 L1067 880 L1070 884 L1074 888 L1069 889 L1063 885 L1058 884 L1052 886 L1044 886 L1040 890 L1038 894 L1032 898 L1028 903 L1023 907 L1018 911 L1013 916 L1008 920 L1005 921 L1001 921 L999 927 L997.6 934 L997 940 L1001 947 L1005 952 L1006.5 958.5 L1000 954.5 L992 949.5 L985 947 L980 946 L976 947 L970 948 L964 950 L958 950 L950 951 L946 954 L940 958 L935 961 L930 965 L926 970 L923 968 L916 964 L908 962 L902 960 L898 961 L890 962 L882 960 L876 961 L868 960 L861 962 L858 968 L852 972 L844 972 L838 974 L835 978 L832 984 L829 990 L824 992 L818 994 L813 996 L812 1000 L808 1004 L802 1007 L797 1010 L794 1014 L791 1021 L789 1016 L784 1011 L778 1012 L774 1008 L768 1006 L760 1007 L754 1006 L748 1005 L742 1006 L735 1007 L730 1004 L726 998 L720 998 L720 1000 L712 998 L704 994 L696 990 L689 992 L682 993 L674 990 L666 989 L658 987 L650 984 L644 982 L638 980 L630 980 L622 978 L615 980 L608 982 L600 982 L594 980 L588 977 L580 975 L572 974 L564 973 L556 972 L548 971 L540 969 L535 966 L529 964 L524 961 L521 958.4 L517 959 L510 960 L503 960 L498 956 L491 956 L486 953 L480 949 L474 946 L472 940 L467 935 L460 933 L461 928 L463 922 L459 917 L453 914 L451 909 L446 906 L440 902 L443 896 L439 891 L440 885 L450 877 L455 873 L453 872.6 L447 870.4 L440 870 L438 870 L434 873 L428 874 L422 876 L414 878 L408 883 L402 886 L394 888 L386 890 L380 894 L373 892 L366 888 L360 889 L354 891 L346 888 L340 892 L340 891 L336 894 L330 893 L324 894 L318 895 L310 894 L300 898 L295 903 L290 910 L288 917 L285 924 L280 930 L275 934 L266 935 L258 938 L252 937 L244 933 L238 931 L239 926 L233 921 L226 918 L216 919 L208 920 L200 918 L198 912 L200 904 L197 899 L192 893 L187 890 L181 890 L178 896 L174 901 L168 903 L162 906 L160 912 L156 917 L152 920 L149 921 L144 921 L138 916 L131 912 L126 907 L119 906 L112 902 L110 894 L112 887 L107 883 L100 880 L93 881 L84 878 L77 876 L72 870 L74 863 L69 857 L65 848 L68 842 L62 836 L65 828 L69 820 L75 814 L79 806 L77 798 L74 791 L70 787Z" fill="none" stroke="#555" stroke-opacity=".55" stroke-width="3.2" filter="url(#sh)" transform="translate(.8 1)"/>
<g clip-path="url(#at)">
<path d="M70 787 L65 782.4 L72 783 L80 779 L90 773.6 L93 766 L96 761 L100 760 L102 764 L101 770 L108 779 L120 783 L130 785 L138 788 L144 791 L143 798 L140 804 L146 809 L155 806 L161 805 L163 808 L161 815 L158 822 L155 828 L156 831 L163 829 L170 826 L180 819 L188 810 L194 802 L197 794 L198 785 L194 778 L195 772 L192 765 L199 764 L197 770 L200 772 L210 773 L215 767 L219 769 L227 770 L232 773 L240 774 L248 776 L255 774 L261 775 L262 779 L257 782 L258 787 L265 788 L270 794 L272 801 L275 804 L286 803 L293 800 L300 798 L308 798 L310 801 L315 797 L322 794 L330 793 L334 787 L338 783 L340 778 L350 775 L360 768 L367 761 L374 763 L382 762 L391 762 L399 757 L408 756 L418 754 L424 756 L432 756 L440 757 L448 755 L445 746 L443 739 L449 737 L456 730 L458 737 L460 741 L467 739 L474 741 L482 739 L485 743 L490 749 L494 756 L500 753 L503 748 L508 744 L517 743 L524 743 L531 745 L530 750 L535 755 L537 758 L535 763 L539 769 L545 772 L550 777 L558 782 L563 787 L569 785 L571 777 L572 771 L575 763 L578 757 L578 750 L574 742 L569 736 L563 733 L556 734 L552 732 L555 726 L557 720 L563 712 L564 706 L560 696 L556 688 L551 680 L547 674 L543 668 L536 660 L531 654 L530 646 L531 648 L538 641 L545 633 L552 628 L560 624 L569 618 L577 612 L586 609 L594 608 L602 606 L611 602 L618 596 L625 590 L628 582 L629 574 L631 566 L630 558 L630 552 L636 548 L640 545 L646 549 L652 550 L658 554 L663 557 L669 559 L673 558 L674 552 L679 548 L682 542 L684 534 L685 526 L683 519 L686 516 L685 510 L689 505 L695 507 L700 511 L700 511 L706 517 L711 523 L716 528 L714 534 L719 539 L726 542 L734 544 L742 547 L750 549 L757 551 L762 552 L765 545 L771 543 L775 538 L778 533 L782 538 L788 540 L794 539 L799 537 L804 542 L809 545 L814 548 L815 540 L816 532 L818 525 L822 519 L827 514 L828 506 L833 503 L840 504 L848 504 L852 500 L853 492 L852 484 L854 476 L853 468 L855 460 L856 453 L860 450 L866 452 L872 455 L877 457 L879 464 L884 466 L890 464 L896 460 L899 457 L900 457 L908 459 L916 462 L924 465 L930 470 L935 475 L942 479 L950 482 L958 485 L966 486 L969 482 L975 481 L980 483 L982 487 L988 489 L992 493 L996 497 L1002 501 L1008 505 L1014 508 L1020 509.6 L1028 509 L1036 510 L1044 511 L1050 513 L1054 510 L1060 509 L1064 504 L1067 499 L1072 498 L1079 496 L1084 499 L1090 501 L1097 503 L1100 508 L1100 513 L1106 514 L1112 517 L1118 517 L1124 516 L1130 515 L1133 519 L1134 526 L1135 533 L1138 539 L1137 546 L1138 553 L1134 560 L1130 566 L1126 572 L1124 579 L1125 586 L1123 592 L1126 598 L1131 603 L1135 609 L1138 617 L1140 624 L1142 631 L1146 637 L1152 640 L1156 644 L1158 650 L1157 654 L1159 658 L1158 664 L1162 669 L1168 670 L1167 675 L1163 680 L1160 688 L1161 696 L1159 703 L1154 709 L1156 715 L1155 722 L1157 730 L1160 737 L1150 739 L1140 737 L1130 734 L1127 739 L1120 741 L1117 746 L1112 744 L1106 736 L1102 726 L1096 728 L1090 725.6 L1084 727 L1078.2 729 L1077.2 732.2 L1074.4 734.4 L1070.8 736.4 L1068 739.2 L1065.2 738.2 L1063.2 741 L1062.8 744.8 L1061.8 747.6 L1061.4 749 L1061.6 749 L1066 749.4 L1070 749.6 L1074 751 L1082 756 L1088 755 L1095 754 L1098 758 L1099 764 L1101 770 L1103 773 L1100 777 L1096 780 L1097 786 L1093 790 L1088 794 L1083 797 L1077 799 L1072 800 L1070 804 L1066 806 L1065 811 L1068 816 L1070 822 L1071 828 L1068 832 L1064 836 L1063 842 L1065 848 L1064 852 L1066 858 L1071 860 L1076 858 L1077 860 L1072 864 L1069 868 L1070 872 L1075 875 L1072 878 L1067 880 L1070 884 L1074 888 L1069 889 L1063 885 L1058 884 L1052 886 L1044 886 L1040 890 L1038 894 L1032 898 L1028 903 L1023 907 L1018 911 L1013 916 L1008 920 L1005 921 L1001 921 L999 927 L997.6 934 L997 940 L1001 947 L1005 952 L1006.5 958.5 L1000 954.5 L992 949.5 L985 947 L980 946 L976 947 L970 948 L964 950 L958 950 L950 951 L946 954 L940 958 L935 961 L930 965 L926 970 L923 968 L916 964 L908 962 L902 960 L898 961 L890 962 L882 960 L876 961 L868 960 L861 962 L858 968 L852 972 L844 972 L838 974 L835 978 L832 984 L829 990 L824 992 L818 994 L813 996 L812 1000 L808 1004 L802 1007 L797 1010 L794 1014 L791 1021 L789 1016 L784 1011 L778 1012 L774 1008 L768 1006 L760 1007 L754 1006 L748 1005 L742 1006 L735 1007 L730 1004 L726 998 L720 998 L720 1000 L712 998 L704 994 L696 990 L689 992 L682 993 L674 990 L666 989 L658 987 L650 984 L644 982 L638 980 L630 980 L622 978 L615 980 L608 982 L600 982 L594 980 L588 977 L580 975 L572 974 L564 973 L556 972 L548 971 L540 969 L535 966 L529 964 L524 961 L521 958.4 L517 959 L510 960 L503 960 L498 956 L491 956 L486 953 L480 949 L474 946 L472 940 L467 935 L460 933 L461 928 L463 922 L459 917 L453 914 L451 909 L446 906 L440 902 L443 896 L439 891 L440 885 L450 877 L455 873 L453 872.6 L447 870.4 L440 870 L438 870 L434 873 L428 874 L422 876 L414 878 L408 883 L402 886 L394 888 L386 890 L380 894 L373 892 L366 888 L360 889 L354 891 L346 888 L340 892 L340 891 L336 894 L330 893 L324 894 L318 895 L310 894 L300 898 L295 903 L290 910 L288 917 L285 924 L280 930 L275 934 L266 935 L258 938 L252 937 L244 933 L238 931 L239 926 L233 921 L226 918 L216 919 L208 920 L200 918 L198 912 L200 904 L197 899 L192 893 L187 890 L181 890 L178 896 L174 901 L168 903 L162 906 L160 912 L156 917 L152 920 L149 921 L144 921 L138 916 L131 912 L126 907 L119 906 L112 902 L110 894 L112 887 L107 883 L100 880 L93 881 L84 878 L77 876 L72 870 L74 863 L69 857 L65 848 L68 842 L62 836 L65 828 L69 820 L75 814 L79 806 L77 798 L74 791 L70 787Z" fill="#fafab8"/>
<path d="M630 729 L638 724 L640 716 L648 710.7 L656 705.3 L661.3 698.7 L665.3 692 L672 685.3 L674.7 678.7 L680 673.3 L684 668 L688 664 L692.7 669.3 L698.7 668 L704 668.7 L708.7 672.7 L714.7 668 L718.7 661.3 L725.3 657.3 L730.7 653.3 L733.3 657.3 L737.3 657.3 L744 653.3 L750.7 650.7 L757.3 648 L762.7 645.3 L768 646 L773.3 649.3 L778 651.3 L777 650 L778 658 L780 666 L784 672 L790 676 L798 680 L806 684 L813 687 L819 691 L821 698 L818 704 L814 710 L815 718 L813 724 L800 740 L760 764 L740 764 L700 748 L672 752 L676 780 L660 792 L650 785.6 L650 785.6 L643 782 L638 778 L635 772 L637 766 L640 760 L638 754 L640 748 L643 742 L645 736 L640 733 L630 730Z" fill="#fad988" stroke="#fad988" stroke-width=".5"/>
<path d="M766 660 L770 657.3 L774 658 L775.3 662 L773.3 666 L768.7 666.7 L766 664Z" fill="#fafab8" stroke="#fafab8" stroke-width=".5"/>
<path d="M650 785.6 L657 786.4 L666 786 L671 783 L674 777 L675.6 771 L672 765 L668 761 L667 755 L668 749 L670 743 L672 741.2 L675.2 737.2 L678.4 734.8 L682.4 734.4 L686.4 734.8 L689.6 733.2 L692 732.8 L695.2 734 L698.4 736.4 L701.6 737.2 L705.6 738 L709.6 738.4 L712.8 741.2 L716 744.4 L717.6 748.4 L717.2 752.4 L717.6 754.8 L720.8 755.2 L726 755 L734 753 L742 751 L746 756 L754 754 L760 755 L766 751 L772 748 L778 744 L784 740 L790 738 L796 734 L802 732 L808 728 L813 724 L813 724 L818 729 L824 731 L830 729 L836 732 L842 735 L848 732 L854 729 L862 727 L869 728 L868 735 L867 742 L868 748 L865 753 L862 758 L854 761 L848 763 L820 790 L820 800 L770 810 L747 830 L700 844 L689 835 L686 829 L682 825 L676 827 L669 828 L662 829 L655 827 L653 822 L652 816 L649 808 L647 800 L648 793 L650 785.6Z" fill="#f99d5a" stroke="#f99d5a" stroke-width=".5"/>
<path d="M747 819 L744 808 L752 804 L760 800 L766 794 L772 791 L780 790 L788 791 L794 795 L798 800 L820 790 L860 800 L900 840 L920 880 L930 920 L920 960 L900 975 L700 1070 L600 1010 L640 996 L620 952 L620 928 L670 920 L670 890 L680 880 L696 860 L720 840Z" fill="#f05f45" stroke="#f05f45" stroke-width=".5"/>
<path d="M689 835 L694 834 L700 833 L708 831 L716 828 L723 831 L730 826 L736 823 L742 820 L747 819 L751 823 L755 828 L760 831 L764 834 L766 840 L767 846 L770 851 L776 853 L782 855 L786 860 L789 866 L791 872 L793 878 L795 883 L796 887 L788 885 L782 884 L776 889 L770 892 L766 889 L762 884 L754 882 L746 881 L743 876 L740 871 L734 874 L728 876 L722 882 L716 886 L710 889 L706 894 L700 898 L694 900 L688 902 L682 900 L685 896 L688 891 L692 886 L695 880 L693 874 L694 868 L699 864 L703 860 L708 861 L709 858 L705 854 L700 850 L695 846 L693 840Z" fill="#c92d4f" stroke="#c92d4f" stroke-width=".5"/>
<path d="M655 827 L662 829 L669 828 L676 827 L682 825 L686 829 L689 835 L693 840 L695 846 L700 850 L705 854 L709 858 L708 861 L703 860 L699 864 L694 868 L693 874 L695 880 L692 886 L688 891 L685 896 L682 900 L680 901 L677 898 L673 893 L669 889 L666 884 L662 880 L656 878 L649 876 L642 873 L634 871 L627 870 L620 868 L620 865 L616 860 L613 855 L615 849 L620 844 L627 842 L634 839 L641 836 L648 832Z" fill="#f99d5a" stroke="#f99d5a" stroke-width=".5"/>
<path d="M520 863 L526 866 L533 868 L540 871 L548 873 L556 876 L560 880 L566 882 L574 883 L582 881 L590 879 L597 877 L602 872 L608 870 L615 869 L620 870 L626 872 L632 871 L640 873 L648 875 L656 877 L662 880 L667 884 L672 889 L676 894 L680 900 L681 910 L684 916 L687 922 L687 928 L686 932 L676 933 L668 933 L662 935 L655 936 L653 940 L646 941 L638 940 L630 938 L628 942 L630 946 L627 951 L629 956 L628 960 L636 961 L642 962 L648 963 L647 968 L645 974 L644 979 L642 984 L620 992 L560 984 L516 968 L518 959 L519 954 L520 949 L523 944 L529 941 L536 940 L544 940 L550 938 L556 936 L561 933 L558 930 L553 926 L548 922 L544 918 L541 912 L542 906 L537 902 L532 898 L529 893 L526 887 L529 883 L531 880 L526 877 L522 871 L518 866Z" fill="#c92d4f" stroke="#c92d4f" stroke-width=".5"/>
<path d="M455 873 L460 870 L467 866 L474 861 L480 858 L488 855 L495 857 L500 860 L506 863 L512 865 L517 865.6 L520 863 L518 866 L522 871 L526 877 L531 880 L529 883 L526 887 L529 893 L532 898 L537 902 L542 906 L541 912 L544 918 L548 922 L553 926 L558 930 L561 933 L556 936 L550 938 L544 940 L536 940 L529 941 L523 944 L520 949 L519 954 L518 959 L516 968 L480 964 L450 924 L428 890 L440 876Z" fill="#f05f45" stroke="#f05f45" stroke-width=".5"/>
<path d="M718 960 L726 958 L734 955 L742 952 L750 953 L760 949 L766 947 L774 948 L778 952 L780 958 L784 955 L785 949 L788 944 L796 943 L800 939 L803 933 L806 928 L812 931 L818 936 L820 942 L823 948 L828 953 L834 957 L840 958 L848 958 L856 958 L861 957 L863 965 L840 984 L820 1004 L792 1026 L760 1014 L728 1004 L727 990 L724 983 L719 976 L720 968Z" fill="#f99d5a" stroke="#f99d5a" stroke-width=".5"/>
<path d="M741.6 959.6 L743.6 954.4 L749.6 952.4 L754.4 954.8 L761 952.4 L769 952 L775 954.4 L778 960 L774 965 L768 968 L762 970 L760 976 L754 978 L747 977 L745 970 L744 964Z" fill="#fad988" stroke="#fad988" stroke-width=".5"/>
<path d="M667 972 L672 968 L680 966 L682 961 L688 960 L694 962 L702 960 L703 966 L700 970 L706 974 L702 978 L694 977 L686 978 L678 982 L674 978 L673 975Z" fill="#fad988" stroke="#fad988" stroke-width=".5"/>
<path d="M798 800 L802 792 L804 783 L810 778 L815 772 L821 765 L826 768 L832 764 L840 760 L848 761 L852 768 L857 774 L861 781 L865 788 L870 793 L877 795 L880 800 L883 806 L886 813 L888 816 L886.7 817.3 L884 820 L882 823.3 L878 826.7 L874 830 L870 832.7 L867.3 836 L863 839.3 L856 833 L849 829 L843 826 L839 819 L834 813 L827 811 L820 812 L816 814 L808 809 L802 804Z" fill="#fab862" stroke="#fab862" stroke-width=".5"/>
<path d="M869 728 L876 727 L882 725 L888 722 L890 718 L896 716 L900 712 L906 711 L911 714 L915 718 L920 719 L924 722 L930 726 L936 727 L942 728 L946 731 L950 735 L955 738 L960 740 L961 746 L964 751 L970 753 L977 756 L976 760 L975 765 L970 767 L966 769 L962 772 L958 775 L953 779 L949 783 L945 786 L941 790 L938 795 L937 801 L934 804 L933 809 L928 811 L924 810 L918 812 L914 815 L913 821 L908 820 L902 818 L896 816 L889 817 L886 820 L884 814 L885 808 L883 802 L879 798 L874 794 L869 791 L865 786 L862 780 L859 775 L855 771 L851 767 L848 763 L854 761 L862 758 L865 753 L868 748 L867 742 L868 735Z" fill="#f05f45" stroke="#f05f45" stroke-width=".5"/>
<path d="M910 820 L914 815 L918 812 L924 810 L928 811 L933 809 L934 804 L937 801 L938 795 L941 790 L945 786 L949 783 L953 779 L958 775 L962 772 L966 769 L970 767 L975 765 L977 760 L980 761 L982 766 L984 769 L980 773 L975 775 L970 778 L964 782 L961 786 L962 792 L966 798 L970 804 L972 810 L968 816 L964 820 L960 828 L910 828Z" fill="#fad988" stroke="#fad988" stroke-width=".5"/>
<path d="M970 767 L975 770 L981 773 L985 777 L982 779 L974 781 L966 783 L961 787 L964 792 L967 797 L970 804 L967 812 L964 820 L965 828 L968 836 L971 842 L976 847 L981 852 L985 858 L981 864 L979 870 L983 876 L980 882 L972 880 L966 885 L960 883 L957 878 L958 872 L954 868 L950 862 L946 856 L942 851 L937 848 L930 846 L925 842 L922 836 L920 830 L917 824 L913 820 L918 814 L926 810 L933 806 L937 800 L940 794 L943 789 L950 783 L957 777 L963 772Z" fill="#fad988" stroke="#fad988" stroke-width=".5"/>
<path d="M913 821 L917 815 L924 812 L932 810 L935 804 L939 800 L941 793 L944 788 L950 783 L956 779 L962 775 L967 771 L971 766 L977 768 L982 772 L985 777 L979 779 L972 781 L966 782 L961 785 L963 790 L966 795 L968 800 L970 806 L968 813 L965 820 L964 828 L966 835 L969 842 L973 847 L978 851 L981 856 L984 862 L982 868 L979 872 L980 878 L982 881 L977 880 L972 879 L967 881 L962 883 L957 881 L955 876 L953 870 L950 864 L947 859 L943 855 L940 850 L936 847 L930 848 L924 846 L920 842 L921 837 L918 832 L916 826Z" fill="#fad988" stroke="#fad988" stroke-width=".5"/>
<path d="M961 787 L966 783 L974 781 L982 779 L989 780 L996 782 L1004 785 L1011 789 L1016 793 L1018 798 L1022 800 L1012 802 L1009 804 L1004 809 L1007 816 L1009 822 L1012 830 L1013 838 L1016 844 L1018 852 L1016 860 L1014 866 L1016 872 L1020 878 L1023 884 L1020 890 L1016 893 L1012 891 L1006 888 L1000 883 L998 878 L993 877 L988 879 L983 876 L979 870 L981 864 L985 858 L981 852 L976 847 L971 842 L968 836 L965 828 L964 820 L967 812 L970 804 L967 797 L964 792Z" fill="#f99d5a" stroke="#f99d5a" stroke-width=".5"/>
<path d="M961 785 L966 782 L972 781 L977 778 L980 772 L981 768 L982 766 L988 769 L992 774 L998 777 L1004 779 L1010 782 L1014 777 L1018 780 L1020 786 L1023 793 L1027 797.6 L1020 799 L1013 800 L1009 804 L1004 809 L1007 816 L1009 822 L1012 830 L1013 838 L1016 844 L1018 852 L1016 860 L1014 866 L1016 872 L1020 878 L1023 884 L1020 890 L1016 895 L1013 893 L1010 891 L1004 888 L999 885 L997 880 L994 877 L988 879 L982 881 L980 878 L979 872 L982 868 L984 862 L981 856 L978 851 L973 847 L969 842 L966 835 L964 828 L965 820 L968 813 L970 806 L968 800 L966 795 L963 790Z" fill="#f99d5a" stroke="#f99d5a" stroke-width=".5"/>
<path d="M863 839.3 L867.3 836 L870 832.7 L874 830 L878 826.7 L882 823.3 L884 820 L886.7 817.3 L888 816 L892 815.7 L896 816 L902 818 L908 820 L913 821 L916 826 L918 832 L921 837 L920 842 L924 846 L930 848 L936 847 L940 850 L943 855 L947 859 L950 864 L953 870 L955 876 L957 881 L962 883 L959 886 L952 888 L946 890 L943 894 L940 888 L938 886 L935 892 L934 898 L932 903 L928 908 L923 909 L919 912 L917 915 L913 910 L908 904 L905 899 L902 893 L900 888 L897 883 L894 877 L893 871 L889 865 L885 860 L882 854 L879 848 L874 844 L869 843Z" fill="#fafab8" stroke="#fafab8" stroke-width=".5"/>
<path d="M917 914 L923 909 L928 908 L932 902 L936 894 L942 886 L944 892 L942 898 L946 906 L952 910 L956 918 L958 926 L962 934 L964 938 L960 942 L964 946 L969 949.6 L960 960 L940 968 L926 978 L900 970 L900 962 L901 958 L904 952 L906 944 L907 936 L912 930 L916 922Z" fill="#fab862" stroke="#fab862" stroke-width=".5"/>
<path d="M917 915 L919 912 L923 909 L928 908 L932 903 L934 898 L935 892 L938 886 L940 888 L943 894 L945 900 L948 906 L952 912 L954 918 L956 924 L959 930 L963 935 L964 940 L961 944 L964 948 L969 951 L966 964 L900 972 L902 960 L903 954 L905 948 L907 942 L906 936 L909 931 L913 926 L916 920Z" fill="#fab862" stroke="#fab862" stroke-width=".5"/>
<path d="M943 895 L948 892 L958 888 L966 885 L972 880 L980 882 L988 879 L993 877 L998 878 L1000 883 L1006 888 L1012 891 L1016 895 L1013 900 L1009 906 L1006 912 L1003 918 L1001 921 L999 927 L1004 960 L960 960 L960 940 L959 936 L957 928 L955 920 L953 914 L950 908 L945 902Z" fill="#c92d4f" stroke="#c92d4f" stroke-width=".5"/>
<path d="M943 894 L946 890 L952 888 L959 886 L962 883 L967 881 L972 879 L977 880 L982 881 L988 879 L994 877 L997 880 L999 885 L1004 888 L1010 891 L1013 893 L1016 895 L1013 900 L1009 906 L1006 912 L1003 918 L1001 921 L1000 928 L1000 980 L966 964 L969 951 L964 948 L961 944 L964 940 L963 935 L959 930 L956 924 L954 918 L952 912 L948 906 L945 900Z" fill="#c92d4f" stroke="#c92d4f" stroke-width=".5"/>
<path d="M1058 751 L1061.2 748.6 L1066 749 L1070 749.6 L1074 751 L1082 756 L1120 752 L1120 900 L1004 928 L1001 921 L1003 918 L1006 912 L1009 906 L1013 900 L1016 895 L1020 890 L1023 884 L1020 878 L1016 872 L1014 866 L1016 860 L1018 852 L1016 844 L1013 838 L1012 830 L1009 822 L1007 816 L1004 809 L1009 804 L1013 800 L1020 799 L1028 798 L1034 795 L1040 791 L1045 786 L1048 778 L1049 770 L1050 762 L1055 755Z" fill="#c92d4f" stroke="#c92d4f" stroke-width=".5"/>
<path d="M851 629 L851 638 L854 646 L862 645 L870 643 L877 644 L882 648 L888 652 L893 657 L897 662 L896 669 L902 668 L908 665 L913 660 L919 657 L924 653 L928 648 L930 644 L928 636 L930 628 L927 620 L930 614 L928 607 L922 604 L914 603 L914 584 L851 580 L852 590 L856 608 L854 620Z" fill="#fad988" stroke="#fad988" stroke-width=".5"/>
<path d="M814 548 L815 540 L816 532 L818 525 L822 519 L827 514 L828 506 L833 503 L840 504 L848 504 L852 500 L853 492 L852 484 L854 476 L853 468 L855 460 L856 453 L860 450 L866 452 L872 455 L877 457 L879 464 L884 466 L890 464 L896 460 L899 457 L908 459 L916 462 L924 465 L930 470 L935 475 L942 479 L950 482 L958 485 L965 487 L963 490 L968 491 L974 493 L977 498 L982 502 L983 506 L979 510 L975 513 L976 517 L973 520 L980 523 L988 526 L992 527 L989 533 L988 540 L982 541 L977 542 L975 545 L969 546 L964 548 L958 549 L951 548 L946 544 L943 539 L939 537 L933 536 L930 538 L924 540 L919 542 L914 545 L910 542 L904 541 L902 546 L900 550 L902 555 L900 562 L897 569 L904 574 L908 580 L908 586 L902 589 L898 590 L895 592 L888 595 L880 598 L874 600 L868 597 L862 593 L856 591 L851 588 L848 583 L844 578 L839 574 L840 568 L838 562 L832 558 L826 554 L820 551Z" fill="#c92d4f" stroke="#c92d4f" stroke-width=".5"/>
<path d="M964 548 L958 549 L951 548 L946 544 L943 539 L939 537 L933 536 L930 538 L924 540 L919 542 L914 545 L910 542 L904 541 L902 546 L900 550 L902 555 L900 562 L897 569 L904 574 L908 580 L908 586 L902 589 L898 590 L897 595 L902 598 L906 602 L903 606 L900 611 L904 612 L912 610 L914 606 L920 605 L926 604 L931 602 L936 600 L940 601 L945 600 L950 600 L953 597 L952 592 L955 589 L960 588 L965 584 L966 580 L968 570 L969 565 L965 560 L964 554Z" fill="#f05f45" stroke="#f05f45" stroke-width=".5"/>
<path d="M933 579 L940 577 L948 576 L949 581 L954 584 L960 588 L958 591 L952 592 L948 587 L942 585 L936 584Z" fill="#fad988" stroke="#fad988" stroke-width=".5"/>
<path d="M965 487 L963 490 L968 491 L974 493 L977 498 L982 502 L983 506 L979 510 L975 513 L976 517 L973 520 L980 523 L988 526 L992 527 L989 533 L988 540 L982 541 L977 542 L975 545 L969 546 L964 548 L964 554 L965 560 L969 565 L976 565 L982 566 L988 565 L994 566 L998 564 L1004 566 L1010 565 L1014 568 L1018 571 L1023 570 L1027 566 L1028 560 L1030 554 L1034 551 L1038 548 L1042 549 L1046 544 L1049 546 L1052 542 L1055 544 L1058 549 L1060 555 L1063 560 L1066 562 L1072 564 L1077 565 L1080 568 L1084 570 L1090 571 L1095 570 L1094 566 L1098 562 L1103 558 L1100 554 L1102 548 L1101 542 L1102 537 L1106 540 L1110 537 L1115 535 L1119 537 L1124 539 L1126 535 L1130 536 L1134.4 534 L1150 534 L1150 480 L966 470Z" fill="#f99d5a" stroke="#f99d5a" stroke-width=".5"/>
<path d="M1134.4 534 L1130 536 L1126 535 L1124 539 L1119 537 L1115 535 L1110 537 L1106 540 L1102 537 L1101 542 L1102 548 L1100 554 L1103 558 L1098 562 L1094 566 L1095 570 L1102 570 L1108 570 L1112 569 L1115 565 L1117 563 L1119 568 L1122 573 L1125 574.4 L1150 574 L1150 534Z" fill="#fab862" stroke="#fab862" stroke-width=".5"/>
<path d="M1062 562 L1066 562 L1072 564 L1077 565 L1080 568 L1081 573 L1083 578 L1085 584 L1089 589 L1093 594 L1096 600 L1090 603 L1084 600 L1078 598 L1072 595 L1067 591 L1063 587 L1064 582 L1066 576 L1063 570Z" fill="#fab862" stroke="#fab862" stroke-width=".5"/>
<path d="M880 707 L888 703 L896 700 L904 699 L912 696 L916 690 L920 684 L926 680 L930 674 L933 668 L934 662 L940 659 L948 656 L954 655 L960 657 L968 658 L976 659 L982 660 L984 663 L990 663 L992 668 L991 673 L986 673 L982 677 L980 682 L974 685 L968 687 L964 690 L958 693 L953 696 L948 700 L946 706 L947 712 L945 718 L944 724 L942 728 L936 727 L930 726 L924 722 L920 719 L915 718 L911 714 L906 711 L900 712 L896 716 L890 718 L888 714 L884 710Z" fill="#f05f45" stroke="#f05f45" stroke-width=".5"/>
<path d="M946 707 L952 704 L960 705 L966 709 L968 715 L974 718 L980 715 L988 713 L996 712 L1004 714 L1012 716 L1019 720 L1023 726 L1028 729 L1030 734 L1028 740 L1030 746 L1031 752 L1030 760 L1028 772 L1012 776 L960 752 L940 730Z" fill="#fab862" stroke="#fab862" stroke-width=".5"/>
<path d="M946 706 L951 705 L958 704 L964 705 L967 709 L971 712 L972 718 L977 717 L982 714 L990 713 L998 714 L1006 715 L1014 718 L1020 721 L1026 724 L1030 729 L1028 734 L1031 740 L1029 746 L1028 752 L1027 758 L1028 764 L1024 769 L1022 774 L1018 780 L1014 777 L1010 782 L1004 779 L998 777 L992 774 L988 769 L982 766 L980 761 L977 756 L970 753 L964 751 L961 746 L960 740 L955 738 L950 735 L946 731 L942 728 L944 724 L945 718 L947 712Z" fill="#fab862" stroke="#fab862" stroke-width=".5"/>
<path d="M807 680 L813 677 L820 676 L828 675 L835 671 L840 673 L844 678 L838 679 L833 681 L830 687 L827 693 L824 697 L821 692 L819 686 L813 684 L808 684Z" fill="#fab862" stroke="#fab862" stroke-width=".5"/>
<path d="M1154 650 L1150 653 L1147 649 L1142 651 L1145 654.4 L1143 656 L1138 660 L1132 658 L1128 661 L1123 664 L1117 668 L1110 669 L1104 672 L1101 678 L1097 682 L1093 686 L1090 688 L1084 688 L1078 686 L1072 685 L1067 688 L1063 693 L1059 698 L1054 702 L1056 708 L1053 712 L1048 715 L1044 714 L1041 717 L1043 720 L1046 722 L1044 728 L1045 734 L1048 740 L1054 746 L1058 751 L1061.2 749.4 L1080 752 L1120 752 L1180 740 L1180 648Z" fill="#fab862" stroke="#fab862" stroke-width=".5"/>
<path d="M630 552 L636 548 L640 545 L646 549 L652 550 L658 554 L663 557 L669 559 L673 558 L676 562 L680 566 L684 571 L689 576 L690 581 L684 580 L678 577 L672 576 L667 579 L666 585 L668 592 L670 598 L667 603 L661 606 L660 612 L659 618 L655 618 L654 611 L652 605 L647 602 L640 600 L633 598 L627 595 L620 592 L620 548Z" fill="#fad988" stroke="#fad988" stroke-width=".5"/>
<path d="M700 511 L706 517 L711 523 L716 528 L714 534 L719 539 L726 542 L734 544 L735 552 L737 558 L738 564 L735 570 L732 574 L726 576 L722 580 L718 586 L716 590 L710 586 L704 582 L700 580 L688 578 L688 500Z" fill="#fab862" stroke="#fab862" stroke-width=".5"/>
<path d="M673 558 L674 552 L679 548 L682 542 L684 534 L685 526 L683 519 L686 516 L685 510 L689 505 L695 507 L700 511 L706 515 L711 519 L716 525 L717 529 L714 533 L717 538 L721 542 L728 543 L733 545 L734 552 L736 558 L738 563 L735 569 L733 575 L728 577 L724 580 L720 584 L717 588 L715 583 L710 582 L704 580 L700 582 L697 578 L692 575 L688 573 L684 571 L680 566 L676 562Z" fill="#fab862" stroke="#fab862" stroke-width=".5"/>
<path d="M734 544 L742 547 L750 549 L757 551 L762 552 L765 545 L771 543 L775 538 L778 533 L782 538 L788 540 L794 539 L799 537 L804 542 L809 545 L814 548 L820 551 L826 554 L832 558 L838 562 L840 568 L838 574 L836 580 L832 586 L826 590 L820 594 L814 598 L809 604 L804 600 L798 594 L792 596 L786 598 L782 594 L777 590 L773.4 593.4 L769.4 596 L764 600 L760 600.6 L758 598 L756 593.4 L753.4 591.4 L751.4 595.4 L749.4 600.6 L745.4 604 L740 603.4 L733.4 604.6 L726.6 602.6 L721.4 600 L717.4 596 L716 590.6 L718 586 L722 580 L726 576 L732 574 L735 570 L738 564 L737 558 L735 552Z" fill="#fad988" stroke="#fad988" stroke-width=".5"/>
<path d="M163 829 L170 826 L180 819 L188 810 L194 802 L197 794 L198 785 L194 778 L200 772 L210 773 L215 767 L219 769 L227 770 L232 773 L240 774 L248 776 L255 774 L261 775 L262 779 L257 782 L258 787 L265 788 L270 794 L272 801 L272 806 L268 809 L261 812 L255 815 L249 808 L242 809 L236 813 L230 814 L224 817 L219 819 L218 823 L222 826 L224 830 L219 829 L214 828 L210 825 L208 828 L212 832 L206 836 L200 838 L194 840 L191 846 L188 850 L180 851 L172 853 L165 854 L162.4 849 L162 840 L164 833Z" fill="#fad988" stroke="#fad988" stroke-width=".5"/>
<path d="M469 745 L478 742 L482 739.4 L485 743 L490 749 L494 756 L500 753 L503 753 L505 758 L511 761 L515 765 L513 770 L515 775 L518 780 L520 785 L512 789 L509 793 L508 799 L502 802 L496 805 L490 808 L490 814 L486 818 L478 819 L470 818 L464 816 L458 818 L452 822 L446 821 L440 824 L432 822.4 L428 826 L426.6 826.8 L428 822 L430 816 L431 814 L430 808 L431 800 L434 794 L437 788 L442 785 L450 788 L458 788 L464 787 L467 782 L467 774 L468 766 L467 758 L468 750Z" fill="#fab862" stroke="#fab862" stroke-width=".5"/>
<path d="M1057.4 602.8 L1061.6 602.5 L1064.3 603.7 L1064.9 608.8 L1070.6 609.7 L1070.9 613 L1076 611.2 L1076.3 615.7 L1080.8 616 L1079.9 620.5 L1081.7 621.4 L1080.2 628.6 L1081.1 636.4 L1085 637.6 L1085 643.9 L1076 639.4 L1070 639.1 L1064.3 643 L1064.6 647.2 L1060.4 647.8 L1048.4 643.6 L1046 647.2 L1039.4 644.2 L1032.8 646 L1033.4 640.6 L1028 636.4 L1030.4 629.2 L1028.3 624.7 L1030.1 621.4 L1030.7 615.7 L1038.8 619 L1043 614.2 L1052 610 L1055.6 610.6 L1056.2 604.6Z" fill="#fafab8" stroke="#fafab8" stroke-width=".5"/>
<text x="57" y="876" font-family="'Liberation Sans',sans-serif" font-size="14" fill="#8a8a80" fill-opacity=".42" textLength="85" lengthAdjust="spacingAndGlyphs" opacity=".999">Liechtenstein</text>
<g mask="url(#alpm)" style="mix-blend-mode:multiply"><rect x="40" y="430" width="1150" height="610" filter="url(#hs)"/></g>
<g fill="none" stroke="#fff" stroke-opacity=".75" stroke-width=".7">
<path d="M548 946 L556 948 L564 949 L572 951 L580 955 L588 954 L596 950 L600 949 L608 954 L616 958 L622 961 L628 960"/>
<path d="M680 906 L692 904 L704 906 L710 912 L713 918 L720 922 L729 920 L728 926 L733 930 L738 935 L740 942 L745 948 L750 953"/>
<path d="M778 952 L776 962 L780 970 L777 980 L779 990 L778 1000 L776 1006"/>
<path d="M1044 794 L1048 800 L1054 806 L1057 813 L1062 814 L1065 811"/>
<path d="M1017 839 L1020 844 L1028 845 L1036 843 L1042 846 L1048 851 L1050 857 L1058 860 L1066 861"/>
<path d="M1022 864 L1021 872 L1025 878 L1032 879 L1038 880 L1040 885"/>
<path d="M1032 513 L1030 520 L1031 528 L1037 532 L1039 540 L1043 544 L1042 549"/>
<path d="M1102 537 L1101 542 L1102 548 L1100 554 L1103 558 L1098 562 L1094 566 L1095 570"/>
<path d="M882 468 L881 476 L878 483 L877 490 L874 498 L873 506 L877 512 L878 518 L872 519 L866 520 L860 519 L854 521 L853 528 L857 532 L852 536 L844 538 L836 540 L830 542 L826 546"/>
<path d="M878 518 L884 514 L890 510 L897 508 L904 504 L912 505 L916 510 L920 515 L918 522 L920 528 L926 531 L930 536"/>
<path d="M941 481 L943 488 L938 491 L932 494 L930 502 L929 508 L926 514 L920 515"/>
<path d="M864 841 L860 844 L855 848 L850 853 L847 859 L844 865 L842 872 L837 876 L832 878"/>
<path d="M900 888 L894 894 L888 896 L881 897 L875 898 L869 902 L863 907 L859 910"/>
<path d="M802 888 L806 894 L809 900 L808 908 L805 916 L804 924 L807 932 L812 937 L817 942 L821 948 L825 954"/>
</g>
<g fill="none" stroke="#7f93c8" stroke-opacity=".7" stroke-width=".8">
<path d="M463 945 L476 943 L490 941 L506 937 L520 933 L529 928 L532 923 L540 926 L550 932 L560 939 L572 942 L586 942 L600 939 L612 936 L617 930 L618 925 L624 924 L632 926 L640 931 L650 938 L660 946 L670 953 L680 960 L688 966 L698 969 L704 973 L712 976 L720 978"/>
<path d="M636 854 L646 860 L658 866 L670 864 L680 860 L684 868 L700 870 L712 865 L728 862 L744 860 L760 857 L770 851 L776 844 L786 840 L800 841 L812 844 L824 844 L833 840 L836 832 L842 826 L848 818 L854 812 L860 807 L868 803 L878 800 L886 799 L900 800"/>
<path d="M700 578 L706 581 L712 588 L716 596 L722 601 L732 603 L740 602 L748 604 L756 606 L764 612 L772 617 L780 620 L788 620 L796 624 L804 631 L812 636 L820 635 L830 632 L838 626 L844 624 L851 629 L858 632 L866 633 L874 630 L882 626 L890 624 L900 623 L908 619 L912 612 L914.4 602"/>
<path d="M915 600 L918 590 L922 584 L928 581 L934 583 L944 581 L954 582 L964 585 L974 585 L982 588 L990 592 L1000 594 L1012 595 L1024 593 L1036 590 L1044 590 L1049 595 L1052 602 L1055 610 L1058 617"/>
<path d="M196 914.7 L205.3 904 L216 890.7 L224 877.3 L225.3 866.7 L217.3 858.7 L213.3 853.3 L221.3 845.3 L232 837.3 L248 829.3 L261.3 825.3 L277.3 822.7 L293.3 822.7 L309.3 826.7 L325.3 829.3 L332 828 L346 824 L360 820 L370 814 L380 806 L390 800 L400 792 L410 784 L420 776 L430 768 L440 760 L446 754 L448 746 L446 738 L443 734"/>
<path d="M1050.7 602.7 L1053.3 613.3 L1056 621.3 L1062.7 630.7 L1074.7 638.7 L1088 643.2 L1101.3 644.8 L1114.7 644.8 L1128 642.1 L1141.3 638.7 L1146.7 637.3"/>
</g>
<g fill="none" stroke="#fff" stroke-opacity=".8" stroke-width="6.6" stroke-linejoin="round">
<path d="M156 831 L157 836 L160 842 L161 849 L162 856 L157 861 L152 866 L149 872 L151 878 L148 884 L150 889 L147 895 L148 901 L144 906 L145 912 L149 917 L149 921"/>
<path d="M438 870 L437 864 L436 858 L434 852 L432 844 L433 838 L436 834 L432 829 L429 825 L432 822 L440 824 L446 821 L452 822 L458 818 L464 816 L470 818 L478 819 L486 818 L490 814 L490 808 L496 805 L502 802 L508 799 L509 793 L512 789 L520 785 L518 780 L515 775 L513 770 L515 765 L511 761 L505 758 L503 753 L503 748"/>
<path d="M455 873 L460 870 L467 866 L474 861 L480 858 L488 855 L495 857 L500 860 L506 863 L512 865 L517 865.6 L520 863"/>
<path d="M520 863 L518 866 L522 871 L526 877 L531 880 L529 883 L526 887 L529 893 L532 898 L537 902 L542 906 L541 912 L544 918 L548 922 L553 926 L558 930 L561 933 L556 936 L550 938 L544 940 L536 940 L529 941 L523 944 L520 949 L519 954 L518 959"/>
<path d="M520 863 L526 866 L533 868 L540 871 L548 873 L556 876 L560 880 L566 882 L574 883 L582 881 L590 879 L597 877 L602 872 L608 870 L615 869 L620 870 L626 872 L632 871 L640 873 L648 875 L656 877 L662 880 L667 884 L672 889 L676 894 L680 900 L684 902"/>
<path d="M650 785.6 L648 793 L647 800 L649 808 L652 816 L653 822 L655 827 L662 829 L669 828 L676 827 L682 825 L686 829 L689 835 L693 840 L695 846 L700 850 L705 854 L709 858 L708 861 L703 860 L699 864 L694 868 L693 874 L695 880 L692 886 L688 891 L685 896 L682 900"/>
<path d="M682 900 L688 902 L694 900 L700 898 L706 894 L710 889 L716 886 L722 882 L728 876 L734 874 L740 871 L743 876 L746 881 L754 882 L762 884 L766 889 L770 892 L776 889 L782 884 L788 885 L796 887 L802 887 L810 884 L818 882 L826 880 L832 878 L837 881 L842 886 L847 891 L852 897 L857 903 L860 910 L859 918 L856 924 L854 930 L858 935 L862 940 L861 942 L861 949 L860 956 L861 962"/>
<path d="M547 674 L550 669 L556 666.4 L562 667 L569 664.4 L574 669 L579 673 L586 678 L594 677 L602 674 L608 672 L612 677 L619 680 L618 685 L614 682 L608 681 L606 686 L605 694 L604 700 L607 706 L614 714 L622 720 L628 724 L630 730 L640 733 L645 736 L643 742 L640 748 L638 754 L640 760 L637 766 L635 772 L638 778 L643 782 L650 785.6"/>
<path d="M650 785.6 L657 786.4 L666 786 L671 783 L674 777 L675.6 771 L672 765 L668 761 L667 755 L668 749 L670 743 L672 741.2 L675.2 737.2 L678.4 734.8 L682.4 734.4 L686.4 734.8 L689.6 733.2 L692 732.8 L695.2 734 L698.4 736.4 L701.6 737.2 L705.6 738 L709.6 738.4 L712.8 741.2 L716 744.4 L717.6 748.4 L717.2 752.4 L717.6 754.8 L720.8 755.2 L726 755 L734 753 L742 751 L746 756 L754 754 L760 755 L766 751 L772 748 L778 744 L784 740 L790 738 L796 734 L802 732 L808 728 L813 724"/>
<path d="M814 548 L820 551 L826 554 L832 558 L838 562 L840 568 L839 574 L844 578 L848 583 L851 588 L850 595 L853 602 L854 610 L853 618 L850 624 L851 629 L851 629 L848 622 L842 621 L837 624 L834 628 L828 630 L820 632 L814 635 L808 636 L802 633 L796 628 L790 624 L784 623 L780 626 L779 634 L780 642 L777 650 L778 658 L780 666 L784 672 L790 676 L798 680 L806 684 L813 687 L819 691 L821 698 L818 704 L814 710 L815 718 L813 724"/>
<path d="M813 724 L818 729 L824 731 L830 729 L836 732 L842 735 L848 732 L854 729 L862 727 L869 728 L876 727 L882 725 L888 722 L890 718 L896 716 L900 712 L906 711 L911 714 L915 718 L920 719 L924 722 L930 726 L936 727 L942 728 L946 731 L950 735 L955 738 L960 740 L961 746 L964 751 L970 753 L977 756 L980 761 L982 766 L988 769 L992 774 L998 777 L1004 779 L1010 782 L1014 777 L1018 780 L1020 786 L1023 793 L1027 797.6"/>
<path d="M1028 798 L1020 799 L1013 800 L1009 804 L1004 809 L1007 816 L1009 822 L1012 830 L1013 838 L1016 844 L1018 852 L1016 860 L1014 866 L1016 872 L1020 878 L1023 884 L1020 890 L1016 895 L1013 900 L1009 906 L1006 912 L1003 918 L1001 921"/>
<path d="M1154 650 L1150 653 L1147 649 L1142 651 L1145 654.4 L1143 656 L1138 660 L1132 658 L1128 661 L1123 664 L1117 668 L1110 669 L1104 672 L1101 678 L1097 682 L1093 686 L1090 688 L1084 688 L1078 686 L1072 685 L1067 688 L1063 693 L1059 698 L1054 702 L1056 708 L1053 712 L1048 715 L1044 714 L1041 717 L1043 720 L1046 722 L1044 728 L1045 734 L1048 740 L1048 740 L1054 746 L1058 751 L1055 755 L1050 762 L1049 770 L1048 778 L1045 786 L1040 791 L1034 795 L1028 798"/>
<path d="M1057.4 602.8 L1061.6 602.5 L1064.3 603.7 L1064.9 608.8 L1070.6 609.7 L1070.9 613 L1076 611.2 L1076.3 615.7 L1080.8 616 L1079.9 620.5 L1081.7 621.4 L1080.2 628.6 L1081.1 636.4 L1085 637.6 L1085 643.9 L1076 639.4 L1070 639.1 L1064.3 643 L1064.6 647.2 L1060.4 647.8 L1048.4 643.6 L1046 647.2 L1039.4 644.2 L1032.8 646 L1033.4 640.6 L1028 636.4 L1030.4 629.2 L1028.3 624.7 L1030.1 621.4 L1030.7 615.7 L1038.8 619 L1043 614.2 L1052 610 L1055.6 610.6 L1056.2 604.6Z"/>
<path d="M70 787 L65 782.4 L72 783 L80 779 L90 773.6 L93 766 L96 761 L100 760 L102 764 L101 770 L108 779 L120 783 L130 785 L138 788 L144 791 L143 798 L140 804 L146 809 L155 806 L161 805 L163 808 L161 815 L158 822 L155 828 L156 831 L163 829 L170 826 L180 819 L188 810 L194 802 L197 794 L198 785 L194 778 L195 772 L192 765 L199 764 L197 770 L200 772 L210 773 L215 767 L219 769 L227 770 L232 773 L240 774 L248 776 L255 774 L261 775 L262 779 L257 782 L258 787 L265 788 L270 794 L272 801 L275 804 L286 803 L293 800 L300 798 L308 798 L310 801 L315 797 L322 794 L330 793 L334 787 L338 783 L340 778 L350 775 L360 768 L367 761 L374 763 L382 762 L391 762 L399 757 L408 756 L418 754 L424 756 L432 756 L440 757 L448 755 L445 746 L443 739 L449 737 L456 730 L458 737 L460 741 L467 739 L474 741 L482 739 L485 743 L490 749 L494 756 L500 753 L503 748 L508 744 L517 743 L524 743 L531 745 L530 750 L535 755 L537 758 L535 763 L539 769 L545 772 L550 777 L558 782 L563 787 L569 785 L571 777 L572 771 L575 763 L578 757 L578 750 L574 742 L569 736 L563 733 L556 734 L552 732 L555 726 L557 720 L563 712 L564 706 L560 696 L556 688 L551 680 L547 674 L543 668 L536 660 L531 654 L530 646 L531 648 L538 641 L545 633 L552 628 L560 624 L569 618 L577 612 L586 609 L594 608 L602 606 L611 602 L618 596 L625 590 L628 582 L629 574 L631 566 L630 558 L630 552 L636 548 L640 545 L646 549 L652 550 L658 554 L663 557 L669 559 L673 558 L674 552 L679 548 L682 542 L684 534 L685 526 L683 519 L686 516 L685 510 L689 505 L695 507 L700 511 L700 511 L706 517 L711 523 L716 528 L714 534 L719 539 L726 542 L734 544 L742 547 L750 549 L757 551 L762 552 L765 545 L771 543 L775 538 L778 533 L782 538 L788 540 L794 539 L799 537 L804 542 L809 545 L814 548 L815 540 L816 532 L818 525 L822 519 L827 514 L828 506 L833 503 L840 504 L848 504 L852 500 L853 492 L852 484 L854 476 L853 468 L855 460 L856 453 L860 450 L866 452 L872 455 L877 457 L879 464 L884 466 L890 464 L896 460 L899 457 L900 457 L908 459 L916 462 L924 465 L930 470 L935 475 L942 479 L950 482 L958 485 L966 486 L969 482 L975 481 L980 483 L982 487 L988 489 L992 493 L996 497 L1002 501 L1008 505 L1014 508 L1020 509.6 L1028 509 L1036 510 L1044 511 L1050 513 L1054 510 L1060 509 L1064 504 L1067 499 L1072 498 L1079 496 L1084 499 L1090 501 L1097 503 L1100 508 L1100 513 L1106 514 L1112 517 L1118 517 L1124 516 L1130 515 L1133 519 L1134 526 L1135 533 L1138 539 L1137 546 L1138 553 L1134 560 L1130 566 L1126 572 L1124 579 L1125 586 L1123 592 L1126 598 L1131 603 L1135 609 L1138 617 L1140 624 L1142 631 L1146 637 L1152 640 L1156 644 L1158 650 L1157 654 L1159 658 L1158 664 L1162 669 L1168 670 L1167 675 L1163 680 L1160 688 L1161 696 L1159 703 L1154 709 L1156 715 L1155 722 L1157 730 L1160 737 L1150 739 L1140 737 L1130 734 L1127 739 L1120 741 L1117 746 L1112 744 L1106 736 L1102 726 L1096 728 L1090 725.6 L1084 727 L1078.2 729 L1077.2 732.2 L1074.4 734.4 L1070.8 736.4 L1068 739.2 L1065.2 738.2 L1063.2 741 L1062.8 744.8 L1061.8 747.6 L1061.4 749 L1061.6 749 L1066 749.4 L1070 749.6 L1074 751 L1082 756 L1088 755 L1095 754 L1098 758 L1099 764 L1101 770 L1103 773 L1100 777 L1096 780 L1097 786 L1093 790 L1088 794 L1083 797 L1077 799 L1072 800 L1070 804 L1066 806 L1065 811 L1068 816 L1070 822 L1071 828 L1068 832 L1064 836 L1063 842 L1065 848 L1064 852 L1066 858 L1071 860 L1076 858 L1077 860 L1072 864 L1069 868 L1070 872 L1075 875 L1072 878 L1067 880 L1070 884 L1074 888 L1069 889 L1063 885 L1058 884 L1052 886 L1044 886 L1040 890 L1038 894 L1032 898 L1028 903 L1023 907 L1018 911 L1013 916 L1008 920 L1005 921 L1001 921 L999 927 L997.6 934 L997 940 L1001 947 L1005 952 L1006.5 958.5 L1000 954.5 L992 949.5 L985 947 L980 946 L976 947 L970 948 L964 950 L958 950 L950 951 L946 954 L940 958 L935 961 L930 965 L926 970 L923 968 L916 964 L908 962 L902 960 L898 961 L890 962 L882 960 L876 961 L868 960 L861 962 L858 968 L852 972 L844 972 L838 974 L835 978 L832 984 L829 990 L824 992 L818 994 L813 996 L812 1000 L808 1004 L802 1007 L797 1010 L794 1014 L791 1021 L789 1016 L784 1011 L778 1012 L774 1008 L768 1006 L760 1007 L754 1006 L748 1005 L742 1006 L735 1007 L730 1004 L726 998 L720 998 L720 1000 L712 998 L704 994 L696 990 L689 992 L682 993 L674 990 L666 989 L658 987 L650 984 L644 982 L638 980 L630 980 L622 978 L615 980 L608 982 L600 982 L594 980 L588 977 L580 975 L572 974 L564 973 L556 972 L548 971 L540 969 L535 966 L529 964 L524 961 L521 958.4 L517 959 L510 960 L503 960 L498 956 L491 956 L486 953 L480 949 L474 946 L472 940 L467 935 L460 933 L461 928 L463 922 L459 917 L453 914 L451 909 L446 906 L440 902 L443 896 L439 891 L440 885 L450 877 L455 873 L453 872.6 L447 870.4 L440 870 L438 870 L434 873 L428 874 L422 876 L414 878 L408 883 L402 886 L394 888 L386 890 L380 894 L373 892 L366 888 L360 889 L354 891 L346 888 L340 892 L340 891 L336 894 L330 893 L324 894 L318 895 L310 894 L300 898 L295 903 L290 910 L288 917 L285 924 L280 930 L275 934 L266 935 L258 938 L252 937 L244 933 L238 931 L239 926 L233 921 L226 918 L216 919 L208 920 L200 918 L198 912 L200 904 L197 899 L192 893 L187 890 L181 890 L178 896 L174 901 L168 903 L162 906 L160 912 L156 917 L152 920 L149 921 L144 921 L138 916 L131 912 L126 907 L119 906 L112 902 L110 894 L112 887 L107 883 L100 880 L93 881 L84 878 L77 876 L72 870 L74 863 L69 857 L65 848 L68 842 L62 836 L65 828 L69 820 L75 814 L79 806 L77 798 L74 791 L70 787Z" stroke-width="7.6"/>
</g>
<g fill="none" stroke="#82878a" stroke-width="2.5" stroke-linejoin="round">
<path d="M156 831 L157 836 L160 842 L161 849 L162 856 L157 861 L152 866 L149 872 L151 878 L148 884 L150 889 L147 895 L148 901 L144 906 L145 912 L149 917 L149 921"/>
<path d="M438 870 L437 864 L436 858 L434 852 L432 844 L433 838 L436 834 L432 829 L429 825 L432 822 L440 824 L446 821 L452 822 L458 818 L464 816 L470 818 L478 819 L486 818 L490 814 L490 808 L496 805 L502 802 L508 799 L509 793 L512 789 L520 785 L518 780 L515 775 L513 770 L515 765 L511 761 L505 758 L503 753 L503 748"/>
<path d="M455 873 L460 870 L467 866 L474 861 L480 858 L488 855 L495 857 L500 860 L506 863 L512 865 L517 865.6 L520 863"/>
<path d="M520 863 L518 866 L522 871 L526 877 L531 880 L529 883 L526 887 L529 893 L532 898 L537 902 L542 906 L541 912 L544 918 L548 922 L553 926 L558 930 L561 933 L556 936 L550 938 L544 940 L536 940 L529 941 L523 944 L520 949 L519 954 L518 959"/>
<path d="M520 863 L526 866 L533 868 L540 871 L548 873 L556 876 L560 880 L566 882 L574 883 L582 881 L590 879 L597 877 L602 872 L608 870 L615 869 L620 870 L626 872 L632 871 L640 873 L648 875 L656 877 L662 880 L667 884 L672 889 L676 894 L680 900 L684 902"/>
<path d="M650 785.6 L648 793 L647 800 L649 808 L652 816 L653 822 L655 827 L662 829 L669 828 L676 827 L682 825 L686 829 L689 835 L693 840 L695 846 L700 850 L705 854 L709 858 L708 861 L703 860 L699 864 L694 868 L693 874 L695 880 L692 886 L688 891 L685 896 L682 900"/>
<path d="M682 900 L688 902 L694 900 L700 898 L706 894 L710 889 L716 886 L722 882 L728 876 L734 874 L740 871 L743 876 L746 881 L754 882 L762 884 L766 889 L770 892 L776 889 L782 884 L788 885 L796 887 L802 887 L810 884 L818 882 L826 880 L832 878 L837 881 L842 886 L847 891 L852 897 L857 903 L860 910 L859 918 L856 924 L854 930 L858 935 L862 940 L861 942 L861 949 L860 956 L861 962"/>
<path d="M547 674 L550 669 L556 666.4 L562 667 L569 664.4 L574 669 L579 673 L586 678 L594 677 L602 674 L608 672 L612 677 L619 680 L618 685 L614 682 L608 681 L606 686 L605 694 L604 700 L607 706 L614 714 L622 720 L628 724 L630 730 L640 733 L645 736 L643 742 L640 748 L638 754 L640 760 L637 766 L635 772 L638 778 L643 782 L650 785.6"/>
<path d="M650 785.6 L657 786.4 L666 786 L671 783 L674 777 L675.6 771 L672 765 L668 761 L667 755 L668 749 L670 743 L672 741.2 L675.2 737.2 L678.4 734.8 L682.4 734.4 L686.4 734.8 L689.6 733.2 L692 732.8 L695.2 734 L698.4 736.4 L701.6 737.2 L705.6 738 L709.6 738.4 L712.8 741.2 L716 744.4 L717.6 748.4 L717.2 752.4 L717.6 754.8 L720.8 755.2 L726 755 L734 753 L742 751 L746 756 L754 754 L760 755 L766 751 L772 748 L778 744 L784 740 L790 738 L796 734 L802 732 L808 728 L813 724"/>
<path d="M814 548 L820 551 L826 554 L832 558 L838 562 L840 568 L839 574 L844 578 L848 583 L851 588 L850 595 L853 602 L854 610 L853 618 L850 624 L851 629 L851 629 L848 622 L842 621 L837 624 L834 628 L828 630 L820 632 L814 635 L808 636 L802 633 L796 628 L790 624 L784 623 L780 626 L779 634 L780 642 L777 650 L778 658 L780 666 L784 672 L790 676 L798 680 L806 684 L813 687 L819 691 L821 698 L818 704 L814 710 L815 718 L813 724"/>
<path d="M813 724 L818 729 L824 731 L830 729 L836 732 L842 735 L848 732 L854 729 L862 727 L869 728 L876 727 L882 725 L888 722 L890 718 L896 716 L900 712 L906 711 L911 714 L915 718 L920 719 L924 722 L930 726 L936 727 L942 728 L946 731 L950 735 L955 738 L960 740 L961 746 L964 751 L970 753 L977 756 L980 761 L982 766 L988 769 L992 774 L998 777 L1004 779 L1010 782 L1014 777 L1018 780 L1020 786 L1023 793 L1027 797.6"/>
<path d="M1028 798 L1020 799 L1013 800 L1009 804 L1004 809 L1007 816 L1009 822 L1012 830 L1013 838 L1016 844 L1018 852 L1016 860 L1014 866 L1016 872 L1020 878 L1023 884 L1020 890 L1016 895 L1013 900 L1009 906 L1006 912 L1003 918 L1001 921"/>
<path d="M1154 650 L1150 653 L1147 649 L1142 651 L1145 654.4 L1143 656 L1138 660 L1132 658 L1128 661 L1123 664 L1117 668 L1110 669 L1104 672 L1101 678 L1097 682 L1093 686 L1090 688 L1084 688 L1078 686 L1072 685 L1067 688 L1063 693 L1059 698 L1054 702 L1056 708 L1053 712 L1048 715 L1044 714 L1041 717 L1043 720 L1046 722 L1044 728 L1045 734 L1048 740 L1048 740 L1054 746 L1058 751 L1055 755 L1050 762 L1049 770 L1048 778 L1045 786 L1040 791 L1034 795 L1028 798"/>
<path d="M1057.4 602.8 L1061.6 602.5 L1064.3 603.7 L1064.9 608.8 L1070.6 609.7 L1070.9 613 L1076 611.2 L1076.3 615.7 L1080.8 616 L1079.9 620.5 L1081.7 621.4 L1080.2 628.6 L1081.1 636.4 L1085 637.6 L1085 643.9 L1076 639.4 L1070 639.1 L1064.3 643 L1064.6 647.2 L1060.4 647.8 L1048.4 643.6 L1046 647.2 L1039.4 644.2 L1032.8 646 L1033.4 640.6 L1028 636.4 L1030.4 629.2 L1028.3 624.7 L1030.1 621.4 L1030.7 615.7 L1038.8 619 L1043 614.2 L1052 610 L1055.6 610.6 L1056.2 604.6Z"/>
</g>
</g>
<path d="M70 787 L65 782.4 L72 783 L80 779 L90 773.6 L93 766 L96 761 L100 760 L102 764 L101 770 L108 779 L120 783 L130 785 L138 788 L144 791 L143 798 L140 804 L146 809 L155 806 L161 805 L163 808 L161 815 L158 822 L155 828 L156 831 L163 829 L170 826 L180 819 L188 810 L194 802 L197 794 L198 785 L194 778 L195 772 L192 765 L199 764 L197 770 L200 772 L210 773 L215 767 L219 769 L227 770 L232 773 L240 774 L248 776 L255 774 L261 775 L262 779 L257 782 L258 787 L265 788 L270 794 L272 801 L275 804 L286 803 L293 800 L300 798 L308 798 L310 801 L315 797 L322 794 L330 793 L334 787 L338 783 L340 778 L350 775 L360 768 L367 761 L374 763 L382 762 L391 762 L399 757 L408 756 L418 754 L424 756 L432 756 L440 757 L448 755 L445 746 L443 739 L449 737 L456 730 L458 737 L460 741 L467 739 L474 741 L482 739 L485 743 L490 749 L494 756 L500 753 L503 748 L508 744 L517 743 L524 743 L531 745 L530 750 L535 755 L537 758 L535 763 L539 769 L545 772 L550 777 L558 782 L563 787 L569 785 L571 777 L572 771 L575 763 L578 757 L578 750 L574 742 L569 736 L563 733 L556 734 L552 732 L555 726 L557 720 L563 712 L564 706 L560 696 L556 688 L551 680 L547 674 L543 668 L536 660 L531 654 L530 646 L531 648 L538 641 L545 633 L552 628 L560 624 L569 618 L577 612 L586 609 L594 608 L602 606 L611 602 L618 596 L625 590 L628 582 L629 574 L631 566 L630 558 L630 552 L636 548 L640 545 L646 549 L652 550 L658 554 L663 557 L669 559 L673 558 L674 552 L679 548 L682 542 L684 534 L685 526 L683 519 L686 516 L685 510 L689 505 L695 507 L700 511 L700 511 L706 517 L711 523 L716 528 L714 534 L719 539 L726 542 L734 544 L742 547 L750 549 L757 551 L762 552 L765 545 L771 543 L775 538 L778 533 L782 538 L788 540 L794 539 L799 537 L804 542 L809 545 L814 548 L815 540 L816 532 L818 525 L822 519 L827 514 L828 506 L833 503 L840 504 L848 504 L852 500 L853 492 L852 484 L854 476 L853 468 L855 460 L856 453 L860 450 L866 452 L872 455 L877 457 L879 464 L884 466 L890 464 L896 460 L899 457 L900 457 L908 459 L916 462 L924 465 L930 470 L935 475 L942 479 L950 482 L958 485 L966 486 L969 482 L975 481 L980 483 L982 487 L988 489 L992 493 L996 497 L1002 501 L1008 505 L1014 508 L1020 509.6 L1028 509 L1036 510 L1044 511 L1050 513 L1054 510 L1060 509 L1064 504 L1067 499 L1072 498 L1079 496 L1084 499 L1090 501 L1097 503 L1100 508 L1100 513 L1106 514 L1112 517 L1118 517 L1124 516 L1130 515 L1133 519 L1134 526 L1135 533 L1138 539 L1137 546 L1138 553 L1134 560 L1130 566 L1126 572 L1124 579 L1125 586 L1123 592 L1126 598 L1131 603 L1135 609 L1138 617 L1140 624 L1142 631 L1146 637 L1152 640 L1156 644 L1158 650 L1157 654 L1159 658 L1158 664 L1162 669 L1168 670 L1167 675 L1163 680 L1160 688 L1161 696 L1159 703 L1154 709 L1156 715 L1155 722 L1157 730 L1160 737 L1150 739 L1140 737 L1130 734 L1127 739 L1120 741 L1117 746 L1112 744 L1106 736 L1102 726 L1096 728 L1090 725.6 L1084 727 L1078.2 729 L1077.2 732.2 L1074.4 734.4 L1070.8 736.4 L1068 739.2 L1065.2 738.2 L1063.2 741 L1062.8 744.8 L1061.8 747.6 L1061.4 749 L1061.6 749 L1066 749.4 L1070 749.6 L1074 751 L1082 756 L1088 755 L1095 754 L1098 758 L1099 764 L1101 770 L1103 773 L1100 777 L1096 780 L1097 786 L1093 790 L1088 794 L1083 797 L1077 799 L1072 800 L1070 804 L1066 806 L1065 811 L1068 816 L1070 822 L1071 828 L1068 832 L1064 836 L1063 842 L1065 848 L1064 852 L1066 858 L1071 860 L1076 858 L1077 860 L1072 864 L1069 868 L1070 872 L1075 875 L1072 878 L1067 880 L1070 884 L1074 888 L1069 889 L1063 885 L1058 884 L1052 886 L1044 886 L1040 890 L1038 894 L1032 898 L1028 903 L1023 907 L1018 911 L1013 916 L1008 920 L1005 921 L1001 921 L999 927 L997.6 934 L997 940 L1001 947 L1005 952 L1006.5 958.5 L1000 954.5 L992 949.5 L985 947 L980 946 L976 947 L970 948 L964 950 L958 950 L950 951 L946 954 L940 958 L935 961 L930 965 L926 970 L923 968 L916 964 L908 962 L902 960 L898 961 L890 962 L882 960 L876 961 L868 960 L861 962 L858 968 L852 972 L844 972 L838 974 L835 978 L832 984 L829 990 L824 992 L818 994 L813 996 L812 1000 L808 1004 L802 1007 L797 1010 L794 1014 L791 1021 L789 1016 L784 1011 L778 1012 L774 1008 L768 1006 L760 1007 L754 1006 L748 1005 L742 1006 L735 1007 L730 1004 L726 998 L720 998 L720 1000 L712 998 L704 994 L696 990 L689 992 L682 993 L674 990 L666 989 L658 987 L650 984 L644 982 L638 980 L630 980 L622 978 L615 980 L608 982 L600 982 L594 980 L588 977 L580 975 L572 974 L564 973 L556 972 L548 971 L540 969 L535 966 L529 964 L524 961 L521 958.4 L517 959 L510 960 L503 960 L498 956 L491 956 L486 953 L480 949 L474 946 L472 940 L467 935 L460 933 L461 928 L463 922 L459 917 L453 914 L451 909 L446 906 L440 902 L443 896 L439 891 L440 885 L450 877 L455 873 L453 872.6 L447 870.4 L440 870 L438 870 L434 873 L428 874 L422 876 L414 878 L408 883 L402 886 L394 888 L386 890 L380 894 L373 892 L366 888 L360 889 L354 891 L346 888 L340 892 L340 891 L336 894 L330 893 L324 894 L318 895 L310 894 L300 898 L295 903 L290 910 L288 917 L285 924 L280 930 L275 934 L266 935 L258 938 L252 937 L244 933 L238 931 L239 926 L233 921 L226 918 L216 919 L208 920 L200 918 L198 912 L200 904 L197 899 L192 893 L187 890 L181 890 L178 896 L174 901 L168 903 L162 906 L160 912 L156 917 L152 920 L149 921 L144 921 L138 916 L131 912 L126 907 L119 906 L112 902 L110 894 L112 887 L107 883 L100 880 L93 881 L84 878 L77 876 L72 870 L74 863 L69 857 L65 848 L68 842 L62 836 L65 828 L69 820 L75 814 L79 806 L77 798 L74 791 L70 787Z" fill="none" stroke="#82878a" stroke-width="2.5" stroke-linejoin="round"/>
<path d="M1116 690 L1120 689 L1124 690 L1125 694 L1122 700 L1119 706 L1117.5 710.3 L1114.7 716.8 L1111.9 723.3 L1109.6 728 L1111 732.7 L1114.7 737.3 L1118.4 741 L1119.8 744.8 L1116.6 746.2 L1111.9 746.7 L1109 743.9 L1105.4 741 L1103.5 743.9 L1101.6 740 L1102 732.7 L1101.6 728 L1103.5 720.5 L1105.4 714 L1107.2 710.3 L1110 705 L1112.5 699 L1114 694Z" fill="#b3d6f0"/>
<g opacity=".999">
<rect x="86.9" y="776.4" width="10.6" height="10.6" fill="#fff" stroke="#444" stroke-width="1.1"/>
<rect x="326.2" y="826.6" width="10.6" height="10.6" fill="#fff" stroke="#444" stroke-width="1.1"/>
<rect x="567.2" y="712.7" width="10.6" height="10.6" fill="#fff" stroke="#444" stroke-width="1.1"/>
<rect x="748.3" y="603.4" width="10.6" height="10.6" fill="#fff" stroke="#444" stroke-width="1.1"/>
<rect x="941.4" y="625.2" width="10.6" height="10.6" fill="#fff" stroke="#444" stroke-width="1.1"/>
<rect x="1072.2" y="701.2" width="10.6" height="10.6" fill="#fff" stroke="#444" stroke-width="1.1"/>
<rect x="914.7" y="868.0" width="10.6" height="10.6" fill="#fff" stroke="#444" stroke-width="1.1"/>
<rect x="750.2" y="963.4" width="10.6" height="10.6" fill="#fff" stroke="#444" stroke-width="1.1"/>
<text x="100" y="783" font-family="'DejaVu Serif',serif" font-size="17" fill="#2b2b2b" stroke="#fff" stroke-width="4.4" stroke-opacity=".92" stroke-linejoin="round" paint-order="stroke" textLength="72" lengthAdjust="spacingAndGlyphs">Bregenz</text>
<text x="339.2" y="831.6" font-family="'DejaVu Serif',serif" font-size="17" fill="#2b2b2b" stroke="#fff" stroke-width="4.4" stroke-opacity=".92" stroke-linejoin="round" paint-order="stroke" textLength="88" lengthAdjust="spacingAndGlyphs">Innsbruck</text>
<text x="580" y="719.4" font-family="'DejaVu Serif',serif" font-size="17" fill="#2b2b2b" stroke="#fff" stroke-width="4.4" stroke-opacity=".92" stroke-linejoin="round" paint-order="stroke" textLength="77" lengthAdjust="spacingAndGlyphs">Salzburg</text>
<text x="761.6" y="608" font-family="'DejaVu Serif',serif" font-size="17" fill="#2b2b2b" stroke="#fff" stroke-width="4.4" stroke-opacity=".92" stroke-linejoin="round" paint-order="stroke" textLength="36.5" lengthAdjust="spacingAndGlyphs">Linz</text>
<text x="908" y="625.5" font-family="'DejaVu Serif',serif" font-size="17" fill="#2b2b2b" stroke="#fff" stroke-width="4.4" stroke-opacity=".92" stroke-linejoin="round" paint-order="stroke" textLength="78" lengthAdjust="spacingAndGlyphs">St.Pölten</text>
<text x="1033.7" y="634.6" font-family="'DejaVu Serif',serif" font-size="17" fill="#2b2b2b" stroke="#fff" stroke-width="4.4" stroke-opacity=".92" stroke-linejoin="round" paint-order="stroke" textLength="43.2" lengthAdjust="spacingAndGlyphs">Wien</text>
<text x="1086" y="707" font-family="'DejaVu Serif',serif" font-size="17" fill="#2b2b2b" stroke="#fff" stroke-width="4.4" stroke-opacity=".92" stroke-linejoin="round" paint-order="stroke" textLength="91" lengthAdjust="spacingAndGlyphs">Eisenstadt</text>
<text x="928" y="873.3" font-family="'DejaVu Serif',serif" font-size="17" fill="#2b2b2b" stroke="#fff" stroke-width="4.4" stroke-opacity=".92" stroke-linejoin="round" paint-order="stroke" textLength="40" lengthAdjust="spacingAndGlyphs">Graz</text>
<text x="762.4" y="970" font-family="'DejaVu Serif',serif" font-size="17" fill="#2b2b2b" stroke="#fff" stroke-width="4.4" stroke-opacity=".92" stroke-linejoin="round" paint-order="stroke" textLength="94.6" lengthAdjust="spacingAndGlyphs">Klagenfurt</text>
<text x="1033.7" y="634.6" font-family="'DejaVu Serif',serif" font-size="17" fill="#000" stroke="#000" stroke-width=".18" textLength="43.2" lengthAdjust="spacingAndGlyphs">Wien</text>
</g>
</svg></div>

<div class="topline"></div>
<header>
<span class="t" style="left:147.3px;top:14px;font-size:55px;color:#1a1a1a;font-family:'DejaVu Sans Light','DejaVu Sans',sans-serif;font-weight:200;transform:scaleX(0.915);-webkit-text-stroke:.45px #1a1a1a;">STAT</span><span class="t" style="left:263.5px;top:8.5px;font-size:60px;color:#1a1a1a;font-family:'Liberation Sans',sans-serif;font-weight:400;transform:scaleX(0.961);">atlas</span>
<svg style="position:absolute;left:398px;top:14px" width="54" height="54" viewBox="0 0 54 54"><g fill="none" stroke="#b0063d" stroke-width="5.4" stroke-linecap="round" stroke-linejoin="round"><path d="M5.6 41.1 L5.6 5.1 L18.7 10.2 L32.3 5.4 L45.5 10.5 L45.5 34.8"/><path d="M5.6 41.1 L18.7 45.9 L32.3 41.1 L45.5 45.9"/><path d="M18.7 10.2 L18.7 45.9"/></g></svg>
<svg style="position:absolute;left:1075px;top:29px" width="23" height="22" viewBox="0 0 23 22"><rect x="0" y="0" width="22.5" height="21.5" rx="3" fill="#111"/><rect x="9.5" y="4" width="4" height="3.4" fill="#fff"/><path d="M7.5 9.2h6v6h2v2.4h-8v-2.4h2v-3.6h-2z" fill="#fff"/></svg>
<span class="t" style="left:1104px;top:27px;font-size:26px;color:#111;font-family:'Liberation Sans',sans-serif;font-weight:400;transform:scaleX(0.913);">Info</span>
<svg style="position:absolute;left:1192px;top:24px" width="30" height="28" viewBox="0 0 30 28"><g fill="none" stroke="#111" stroke-width="2.6"><circle cx="22.5" cy="6" r="4.2"/><circle cx="22.5" cy="21.5" r="4.2"/><circle cx="6.5" cy="13.5" r="4.2"/><path d="M10.3 11.6 L18.7 7.8 M10.3 15.4 L18.7 19.6"/></g></svg>
<span class="t" style="left:1227px;top:27px;font-size:26px;color:#111;font-family:'Liberation Sans',sans-serif;font-weight:400;transform:scaleX(0.971);">Teilen</span>
<svg style="position:absolute;left:1348px;top:23px" width="33" height="30" viewBox="0 0 33 30"><g fill="none" stroke="#111" stroke-width="2.4" stroke-linecap="round"><path d="M2 4.5h7.5M16.5 4.5h14M2 14.5h15.5M24.5 14.5h6M2 24.5h4M13 24.5h17.5"/><circle cx="13" cy="4.5" r="3.3" fill="#fff"/><circle cx="21" cy="14.5" r="3.3" fill="#fff"/><circle cx="9.5" cy="24.5" r="3.3" fill="#fff"/></g></svg>
<span class="t" style="left:1388px;top:27px;font-size:26px;color:#111;font-family:'Liberation Sans',sans-serif;font-weight:400;transform:scaleX(0.992);">Optionen</span>
</header>

<div class="panel"></div>
<div class="rbtn" style="left:4px;top:97px;width:32px;height:72px;border-radius:0 6px 6px 0"><svg width="32" height="72"><path d="M24 20 L8.5 35.5 L24 51" fill="none" stroke="#fff" stroke-width="2"/></svg></div>
<div class="rbtn" style="left:452px;top:97px;width:32px;height:72px;border-radius:0 6px 6px 0"><svg width="32" height="72"><path d="M23 20 L7.5 35.5 L23 51" fill="none" stroke="#fff" stroke-width="2"/></svg></div>
<div class="legend"></div>
<span class="t" style="left:68px;top:122px;font-size:23px;color:#4d4d4d;font-family:'Liberation Sans',sans-serif;font-weight:400;transform:scaleX(1.007);">Anteil der Personen 65 bis 84</span><span class="t" style="left:68px;top:155.5px;font-size:23px;color:#4d4d4d;font-family:'Liberation Sans',sans-serif;font-weight:400;transform:scaleX(1.034);">Jahre an der Gesamtbevölkerung</span><span class="t" style="left:68px;top:189px;font-size:23px;color:#4d4d4d;font-family:'Liberation Sans',sans-serif;font-weight:400;transform:scaleX(1.0);">in % - 2040</span><div class="sw" style="top:248px;background:#bd0026;box-shadow:inset 0 0 0 1px rgba(0,0,0,.08)"></div><span class="t" style="left:119px;top:254px;font-size:23px;color:#000;font-family:'Liberation Sans',sans-serif;font-weight:400;transform:scaleX(0.947);">≥ 28</span><div class="sw" style="top:288.5px;background:#f03b20;box-shadow:inset 0 0 0 1px rgba(0,0,0,.08)"></div><span class="t" style="left:119px;top:294.5px;font-size:23px;color:#000;font-family:'Liberation Sans',sans-serif;font-weight:400;transform:scaleX(0.947);">≥ 27 - 28</span><div class="sw" style="top:329px;background:#fd8d3c;box-shadow:inset 0 0 0 1px rgba(0,0,0,.08)"></div><span class="t" style="left:119px;top:335px;font-size:23px;color:#000;font-family:'Liberation Sans',sans-serif;font-weight:400;transform:scaleX(0.947);">≥ 26 - 27</span><div class="sw" style="top:369.5px;background:#feb24c;box-shadow:inset 0 0 0 1px rgba(0,0,0,.08)"></div><span class="t" style="left:119px;top:375.5px;font-size:23px;color:#000;font-family:'Liberation Sans',sans-serif;font-weight:400;transform:scaleX(0.947);">≥ 25 - 26</span><div class="sw" style="top:410px;background:#fed976;box-shadow:inset 0 0 0 1px rgba(0,0,0,.08)"></div><span class="t" style="left:119px;top:416px;font-size:23px;color:#000;font-family:'Liberation Sans',sans-serif;font-weight:400;transform:scaleX(0.947);">≥ 24 - 25</span><div class="sw" style="top:450.5px;background:#ffffb2;box-shadow:inset 0 0 0 1px rgba(0,0,0,.08)"></div><span class="t" style="left:119px;top:456.5px;font-size:23px;color:#000;font-family:'Liberation Sans',sans-serif;font-weight:400;transform:scaleX(0.947);">&lt; 24</span><span class="t" style="left:60.5px;top:500.7px;font-size:17px;color:#111;font-family:'Liberation Sans',sans-serif;font-weight:400;transform:scaleX(1.02);">Datenstand: 01.04.2022</span><span class="t" style="left:297px;top:500.7px;font-size:17px;color:#111;font-family:'Liberation Sans',sans-serif;font-weight:400;transform:scaleX(1.046);">Prognoseregionen</span>

<div class="ctl" style="top:138px"><svg width="48" height="48"><path d="M10 24h28M24 10v28" stroke="#fff" stroke-width="2.4" fill="none"/></svg></div>
<div class="ctl" style="top:199.5px"><svg width="48" height="48"><path d="M10 24h28" stroke="#fff" stroke-width="2.4" fill="none"/></svg></div>
<div class="ctl" style="top:264.5px;left:1448px;width:47px;height:47px"><svg width="47" height="47"><g stroke="#fff" stroke-width="2" fill="none"><path d="M11 11L36 36M36 11L11 36"/><path d="M11 19v-8h8M28 11h8v8M36 28v8h-8M19 36h-8v-8"/></g></svg></div>
<div class="ctl" style="top:329px;left:1448px;width:47px;height:47px"><svg width="47" height="47"><g stroke="#fff" stroke-width="2.2" fill="none"><circle cx="23.5" cy="23.5" r="10"/><circle cx="23.5" cy="23.5" r="4.3"/><path d="M23.5 8v6M23.5 33v6M8 23.5h6M33 23.5h6"/></g></svg></div>


<svg style="position:absolute;left:1310px;top:1080px" width="190" height="90" viewBox="1310 1080 190 90">
<path d="M1404.7 1086 L1382.7 1124 L1404.7 1110 Z" fill="#a0103c"/>
<path d="M1404.7 1087.5 L1404.7 1110 L1425.5 1123.5 Z" fill="none" stroke="#a0103c" stroke-width="1.3"/>
<path d="M1333.1 1143.3 A87 10.2 0 1 1 1476.3 1143.3 A80 9.19 0 1 0 1333.1 1143.3 Z" fill="#a0103c"/>
<text transform="translate(1342 1147.3) scale(.7 1)" font-family="'Liberation Sans',sans-serif" font-size="12" fill="#6a6a6a" textLength="174.5" lengthAdjust="spacing">STATISTIK AUSTRIA</text>
<path d="M1313.5 1152.7H1496" stroke="#9a9a9a" stroke-width=".7"/>
<text transform="translate(1355.5 1164) scale(.72 1)" font-family="'Liberation Sans',sans-serif" font-size="8.6" font-weight="700" fill="#777" textLength="137.5" lengthAdjust="spacing">Die Informationsmanager</text>
</svg>
<span class="t" style="left:1327px;top:1173px;font-size:14px;color:#222;font-family:'Liberation Sans',sans-serif;font-weight:400;transform:scaleX(1.02);">Grundkarte: <span style="text-decoration:underline">basemap.at</span></span>
</body></html>
